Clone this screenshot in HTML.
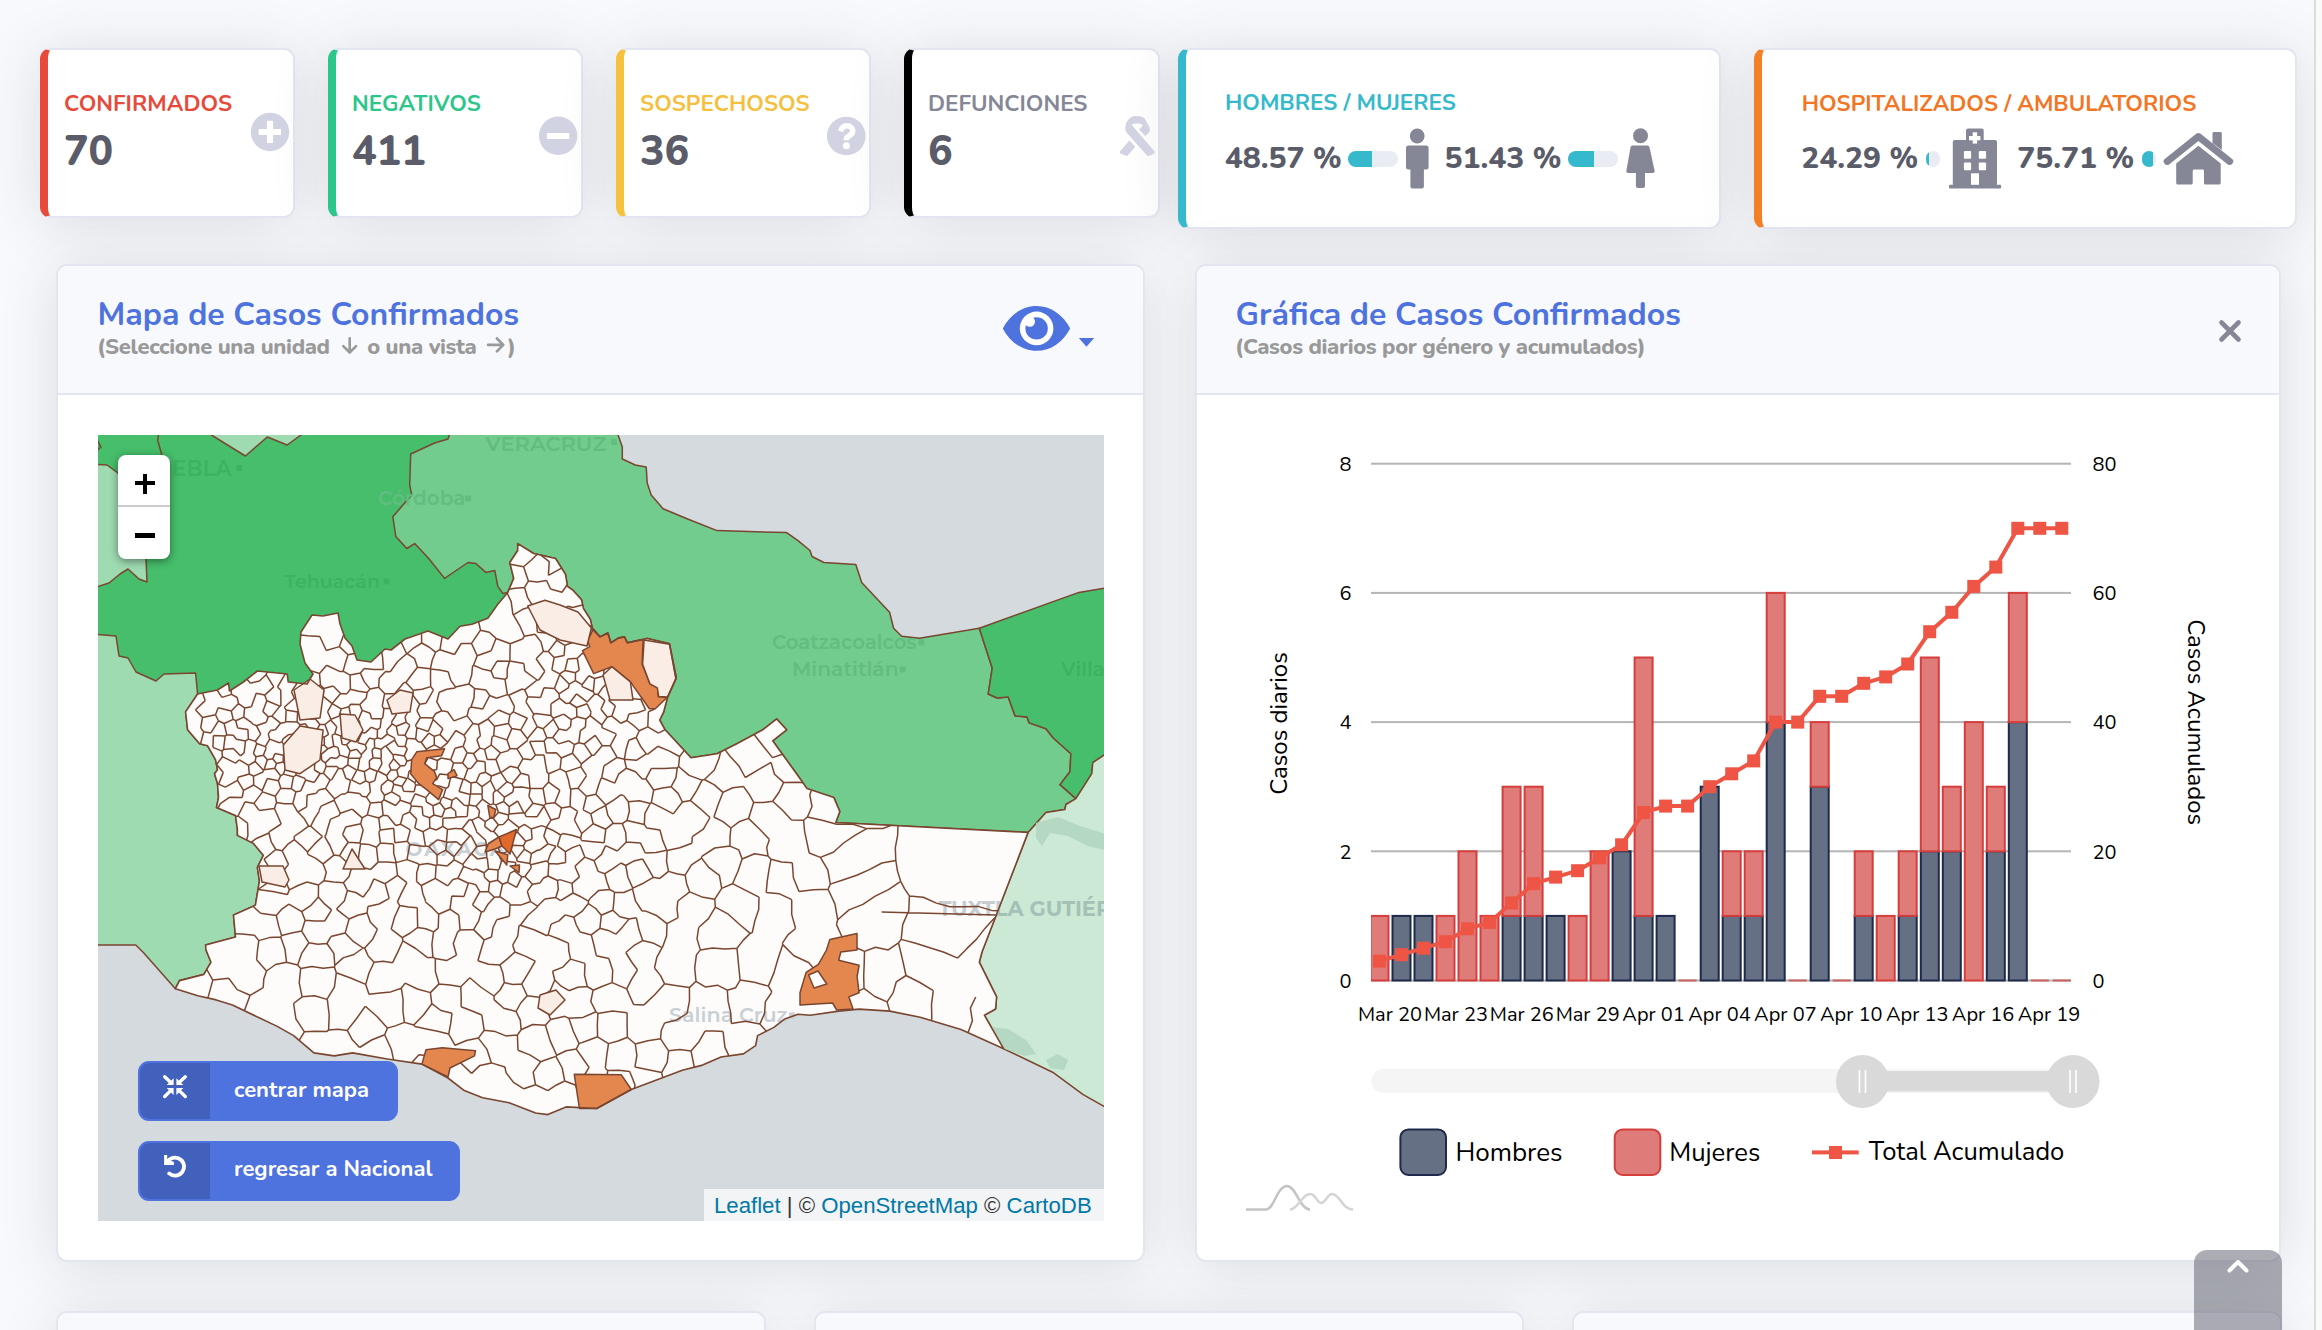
<!DOCTYPE html><html><head><meta charset="utf-8"><style>
*{margin:0;padding:0;box-sizing:border-box}
html,body{width:2322px;height:1330px;overflow:hidden}
body{background:#f8f9fc;font-family:Nunito, 'Liberation Sans', sans-serif;position:relative}
.t{position:absolute;line-height:1;white-space:nowrap}
.card{position:absolute;background:#fff;border:2px solid #e3e6f0;border-radius:11px;
  box-shadow:0 5px 56px 0 rgba(58,59,69,.15)}
.bl{border-left-width:8px}
.hdr{position:absolute;left:0;right:0;top:0;background:#f8f9fc;border-bottom:2px solid #e3e6f0;border-radius:9px 9px 0 0}
svg{position:absolute;overflow:visible}
</style></head><body><div class="card bl" style="left:40px;top:48px;width:255px;height:170px;border-left-color:#e74a3b"></div>
<div class="t " style="left:64.0px;top:92.7px;font-size:22.4px;color:#e74a3b;font-weight:700;">CONFIRMADOS</div>
<div class="t " style="left:64.0px;top:130.7px;font-size:41px;color:#5a5c69;font-weight:800;">70</div>
<div class="card bl" style="left:328px;top:48px;width:255px;height:170px;border-left-color:#2dc68a"></div>
<div class="t " style="left:352.0px;top:92.7px;font-size:22.4px;color:#2dc68a;font-weight:700;">NEGATIVOS</div>
<div class="t " style="left:352.0px;top:130.7px;font-size:41px;color:#5a5c69;font-weight:800;">411</div>
<div class="card bl" style="left:616px;top:48px;width:255px;height:170px;border-left-color:#f6c23e"></div>
<div class="t " style="left:640.0px;top:92.7px;font-size:22.4px;color:#f5c040;font-weight:700;">SOSPECHOSOS</div>
<div class="t " style="left:640.0px;top:130.7px;font-size:41px;color:#5a5c69;font-weight:800;">36</div>
<div class="card bl" style="left:904px;top:48px;width:256px;height:170px;border-left-color:#000000"></div>
<div class="t " style="left:928.0px;top:92.7px;font-size:22.4px;color:#858796;font-weight:700;">DEFUNCIONES</div>
<div class="t " style="left:928.0px;top:130.7px;font-size:41px;color:#5a5c69;font-weight:800;">6</div>
<div class="card bl" style="left:1178px;top:48px;width:543px;height:181px;border-left-color:#36b9cc"></div>
<div class="t " style="left:1225.0px;top:92.4px;font-size:22.4px;color:#36b9cc;font-weight:700;">HOMBRES / MUJERES</div>
<div class="t " style="left:1224.8px;top:144.4px;font-size:30px;color:#5a5c69;font-weight:800;">48.57 %</div>
<div class="t " style="left:1444.5px;top:144.4px;font-size:30px;color:#5a5c69;font-weight:800;">51.43 %</div>
<div class="card bl" style="left:1754px;top:48px;width:543px;height:181px;border-left-color:#f37f27"></div>
<div class="t " style="left:1801.7px;top:92.7px;font-size:22.4px;color:#f27624;font-weight:700;">HOSPITALIZADOS / AMBULATORIOS</div>
<div class="t " style="left:1801.3px;top:144.4px;font-size:30px;color:#5a5c69;font-weight:800;">24.29 %</div>
<div class="t " style="left:2017.3px;top:144.4px;font-size:30px;color:#5a5c69;font-weight:800;">75.71 %</div>
<div style="position:absolute;left:1348px;top:151px;width:50px;height:16px;border-radius:8.0px;background:#eaecf4;overflow:hidden"><div style="width:24.3px;height:100%;background:#36b9cc"></div></div>
<div style="position:absolute;left:1568px;top:151px;width:50px;height:16px;border-radius:8.0px;background:#eaecf4;overflow:hidden"><div style="width:25.7px;height:100%;background:#36b9cc"></div></div>
<div style="position:absolute;left:1926px;top:151px;width:14px;height:16px;border-radius:8.0px;background:#eaecf4;overflow:hidden"><div style="width:3.4px;height:100%;background:#36b9cc"></div></div>
<div style="position:absolute;left:2142px;top:151px;width:14px;height:16px;border-radius:8.0px;background:#eaecf4;overflow:hidden"><div style="width:10.6px;height:100%;background:#36b9cc"></div></div>
<svg style="left:0;top:0;z-index:3" width="2322" height="1330" viewBox="0 0 2322 1330"><circle cx="270" cy="132" r="19.2" fill="#d1d3e2"/><rect x="258.7" y="129" width="22.3" height="6" fill="#fff"/><rect x="266.9" y="120.8" width="6.2" height="22.3" fill="#fff"/><circle cx="558.2" cy="135.8" r="19.2" fill="#d1d3e2"/><rect x="547" y="133" width="22.2" height="6" fill="#fff"/><circle cx="846.3" cy="136" r="19.3" fill="#d1d3e2"/><path d="M840.3,131.2 C841.8,127.6 844,125.7 846.6,125.7 C850.2,125.7 852.8,128 852.8,131 C852.8,134 850.4,135.2 848.4,136.3 C846.8,137.2 846.2,138.2 846.2,140.2" fill="none" stroke="#fff" stroke-width="5.4"/><circle cx="846.4" cy="145.8" r="3.5" fill="#fff"/><path d="M1125.3,128.5 C1125.3,124 1127,121 1129.4,118.5 C1131.5,116.6 1134,116.1 1137.1,116.1 C1140.5,116.1 1143,117 1144.7,118.5 L1149.7,127.6 C1150.3,130 1149.7,132 1148.4,133 L1145.2,136.1 L1139.3,129.8 L1142.9,124.9 C1141,123.8 1139,123.5 1137.1,123.5 C1135,123.5 1133,124 1131.7,124.9 L1154.7,151.5 C1155.2,152.5 1154.5,153.5 1153.5,154 L1148.5,156 C1147.8,156.2 1147.3,156 1147,155.5 L1127,133 C1125.8,131.5 1125.3,130 1125.3,128.5 Z M1119.9,151.5 L1129.4,140.6 L1135.3,147 L1127.1,156 L1121.5,154 C1120,153.3 1119.5,152.3 1119.9,151.5 Z" fill="#d1d3e2"/><circle cx="1417.2" cy="136" r="7.4" fill="#858796"/><rect x="1406" y="145.5" width="22.6" height="24" rx="2.5" fill="#858796"/><rect x="1410.4" y="160" width="13.5" height="28.4" rx="2" fill="#858796"/><circle cx="1640.5" cy="135.8" r="7.5" fill="#858796"/><path d="M1632.5,145.5 L1647.5,145.5 Q1649,145.5 1649.4,147 L1654.6,170.5 Q1655,173 1652.5,173 L1628.5,173 Q1626,173 1626.4,170.5 L1630.6,147 Q1631,145.5 1632.5,145.5Z" fill="#858796"/><rect x="1635.9" y="168" width="9.1" height="20" rx="2" fill="#858796"/><rect x="1966" y="128.5" width="17.7" height="14" rx="2" fill="#858796"/><rect x="1952.8" y="140.1" width="44.2" height="46" rx="2" fill="#858796"/><rect x="1949" y="184.8" width="52.1" height="3.6" rx="1" fill="#858796"/><rect x="1969" y="136" width="11.4" height="4.3" fill="#fff"/><rect x="1972.7" y="132.3" width="4.4" height="11.3" fill="#fff"/><rect x="1963.9" y="150.9" width="7.2" height="7.9" rx="1" fill="#fff"/><rect x="1978.8" y="150.9" width="7.3" height="7.9" rx="1" fill="#fff"/><rect x="1963.9" y="162.4" width="7.2" height="7.8" rx="1" fill="#fff"/><rect x="1978.8" y="162.4" width="7.3" height="7.8" rx="1" fill="#fff"/><rect x="1971" y="173.3" width="8" height="11.5" fill="#fff"/><path d="M2167.2,161.4 L2198.4,136.6 L2229.7,161.4" fill="none" stroke="#858796" stroke-width="7" stroke-linecap="round" stroke-linejoin="round"/><path d="M2212.5,133.5 Q2212.5,132.1 2214,132.1 L2220.3,132.1 Q2221.8,132.1 2221.8,133.5 L2221.8,150 L2212.5,143 Z" fill="#858796"/><path d="M2176.2,163.4 L2198.4,145.7 L2220.7,163.4 L2220.7,183 Q2220.7,184.6 2219,184.6 L2205.5,184.6 Q2204,184.6 2204,183 L2204,171 Q2204,169.6 2202.5,169.6 L2194.2,169.6 Q2192.7,169.6 2192.7,171 L2192.7,183 Q2192.7,184.6 2191,184.6 L2177.8,184.6 Q2176.2,184.6 2176.2,183 Z" fill="#858796"/></svg>
<div class="card" style="left:56px;top:264px;width:1089px;height:998px;overflow:hidden"><div class="hdr" style="height:129px"></div></div>
<div class="t " style="left:97.5px;top:299.2px;font-size:32px;color:#4e73df;font-weight:700;">Mapa de Casos Confirmados</div>
<div class="t " style="left:97.0px;top:336.4px;font-size:22px;color:#999999;font-weight:800;letter-spacing:-0.35px">(Seleccione una unidad<svg style="position:static;display:inline-block;vertical-align:baseline;overflow:visible" width="37.5" height="14"><path d="M19.7,-1.7 L19.7,12.3 M13.3,6.1 L19.7,12.5 L26.1,6.1" fill="none" stroke="#999" stroke-width="2.6" stroke-linecap="round" stroke-linejoin="round"/></svg>o una vista<svg style="position:static;display:inline-block;vertical-align:baseline;overflow:visible" width="31" height="14"><path d="M12.1,4.9 L27.1,4.9 M20.9,-1.5 L27.3,4.9 L20.9,11.3" fill="none" stroke="#999" stroke-width="2.6" stroke-linecap="round" stroke-linejoin="round"/></svg>)</div>
<svg style="left:0;top:0;z-index:3" width="1" height="1"><path d="M1002.8,328.4 C1010,315 1022,306 1036.5,306 C1051,306 1063,315 1070.2,328.4 C1063,342 1051,350.8 1036.5,350.8 C1022,350.8 1010,342 1002.8,328.4Z" fill="#4e73df"/><circle cx="1036.6" cy="328.4" r="16.8" fill="#fff"/><circle cx="1036.6" cy="328.4" r="11.2" fill="#4e73df"/><circle cx="1029.8" cy="321.6" r="5.2" fill="#fff"/><path d="M1078.8,338 L1094.1,338 L1086.5,346.8Z" fill="#4e73df"/></svg>
<div style="position:absolute;left:98px;top:435px;width:1006px;height:786px;overflow:hidden;background:#d4dadd"><svg width="1006" height="786" viewBox="0 0 1006 786" style="display:block"><rect width="1006" height="786" fill="#46be6b"/><path d="M517.3,-8.0 L524.3,12.0 L524.3,24.0 L537.3,30.0 L548.2,32.0 L549.2,48.0 L553.2,60.0 L565.1,73.7 L589.0,83.7 L619.0,95.6 L688.6,97.6 L700.0,105.6 L712.0,115.5 L714.0,121.5 L725.9,127.5 L757.8,129.5 L763.7,147.4 L791.6,177.3 L795.6,193.2 L803.6,201.2 L821.5,203.2 L881.3,193.2 L980.9,157.4 L1014.0,151.8 L1014.0,-8.0Z" fill="#d4dadd"/><path d="M-8.0,510.0 L37.8,510.0 L45.8,518.0 L77.4,553.7 L99.8,560.8 L118.2,564.9 L134.4,570.0 L179.3,591.4 L195.6,600.6 L215.9,617.9 L236.3,620.9 L254.6,617.9 L289.3,624.0 L323.9,629.1 L350.0,643.0 L366.3,655.6 L384.6,662.7 L411.1,667.8 L437.6,678.0 L449.8,679.6 L468.1,671.9 L498.7,673.5 L533.3,654.5 L584.3,635.2 L604.6,630.1 L623.0,622.0 L645.4,618.9 L657.6,610.7 L659.6,600.6 L675.9,592.4 L686.1,584.3 L700.0,579.2 L712.2,580.2 L740.7,576.1 L761.1,574.1 L791.7,576.1 L822.2,582.2 L863.0,594.4 L905.7,613.8 L954.6,637.2 L985.2,659.6 L1014.0,676.0 L1014.0,794.0 L-8.0,794.0Z" fill="#d4dadd"/><path d="M354.0,-8.0 L517.3,-8.0 L524.3,12.0 L524.3,24.0 L537.3,30.0 L548.2,32.0 L549.2,48.0 L553.2,60.0 L565.1,73.7 L589.0,83.7 L619.0,95.6 L688.6,97.6 L700.0,105.6 L712.0,115.5 L714.0,121.5 L725.9,127.5 L757.8,129.5 L763.7,147.4 L791.6,177.3 L795.6,193.2 L803.6,201.2 L821.5,203.2 L881.3,193.2 L894.2,233.1 L890.2,259.0 L899.2,263.0 L910.2,262.0 L917.1,280.9 L929.1,281.9 L931.1,287.9 L948.0,293.8 L955.0,302.8 L972.9,318.7 L971.9,336.7 L962.0,349.6 L977.9,363.6 L967.9,369.5 L966.9,374.5 L948.0,377.5 L930.1,397.4 L737.8,387.5 L741.8,376.5 L735.9,362.6 L709.0,353.6 L700.0,340.7 L674.7,305.8 L688.6,294.8 L678.7,283.9 L664.7,294.8 L638.8,308.8 L618.9,318.7 L593.0,322.7 L567.1,294.8 L561.7,285.0 L565.6,277.2 L569.5,262.5 L578.3,243.0 L571.5,208.8 L549.0,203.4 L545.1,204.4 L529.4,207.8 L526.5,201.9 L520.7,202.9 L512.8,207.8 L509.9,198.0 L502.1,201.9 L494.3,193.1 L492.3,184.3 L485.5,173.6 L483.5,164.8 L474.7,155.0 L469.5,151.4 L467.5,139.4 L457.6,123.5 L435.7,118.5 L419.7,108.6 L419.7,115.5 L411.8,127.5 L415.7,143.4 L409.8,157.4 L404.8,158.4 L399.8,151.4 L396.8,135.5 L387.8,137.4 L377.9,128.5 L370.0,127.5 L350.0,141.0 L346.6,143.4 L330.7,123.5 L316.7,108.6 L308.8,113.5 L297.8,101.6 L294.8,81.7 L313.7,60.0 L311.7,50.0 L312.7,19.0 L336.6,8.0 L350.0,4.0Z" fill="#72cc8e" stroke="#7a4630" stroke-width="1.5" stroke-linejoin="round"/><path d="M881.3,193.2 L980.9,157.4 L1014.0,151.8 L1014.0,314.8 L994.8,327.7 L993.8,338.7 L977.9,363.6 L962.0,349.6 L971.9,336.7 L972.9,318.7 L955.0,302.8 L948.0,293.8 L931.1,287.9 L929.1,281.9 L917.1,280.9 L910.2,262.0 L899.2,263.0 L890.2,259.0 L894.2,233.1Z" fill="#46be6b" stroke="#7a4630" stroke-width="1.5" stroke-linejoin="round"/><path d="M1014.0,314.8 L1014.0,676.0 L985.2,659.6 L954.6,637.2 L905.7,613.8 L886.4,580.2 L897.6,574.0 L898.6,561.9 L881.3,527.2 L884.0,517.0 L930.1,397.4 L948.0,377.5 L966.9,374.5 L967.9,369.5 L977.9,363.6 L993.8,338.7 L994.8,327.7Z" fill="#cbe9d4" stroke="#7a4630" stroke-width="1.5" stroke-linejoin="round"/><path d="M938.0,388.0 L960.0,382.0 L982.0,391.0 L1014.0,401.0 L1014.0,417.0 L990.0,411.0 L970.0,401.0 L952.0,398.0 L944.0,411.0 L938.0,403.0Z" fill="#b4d8c2"/><path d="M892.0,592.0 L910.0,594.0 L928.0,605.0 L938.0,619.0 L926.0,621.0 L904.0,613.0 L894.0,605.0Z" fill="#b4d8c2"/><path d="M948.0,625.0 L960.0,619.0 L970.0,625.0 L966.0,635.0 L952.0,633.0Z" fill="#b4d8c2"/><path d="M-8.0,199.0 L18.0,201.0 L21.0,221.0 L30.0,223.0 L38.0,237.0 L58.0,246.0 L66.0,239.0 L97.6,238.0 L99.6,259.0 L87.6,276.9 L89.6,294.8 L101.6,308.8 L109.6,310.8 L117.5,324.7 L119.5,334.7 L116.5,338.7 L119.5,348.6 L120.5,362.6 L118.5,372.5 L137.5,380.5 L139.4,394.4 L139.4,400.4 L155.4,408.4 L165.3,420.3 L159.4,432.3 L161.4,446.2 L157.4,470.1 L153.4,472.1 L135.5,480.1 L137.5,502.0 L107.6,510.0 L108.0,515.0 L113.0,527.2 L105.9,539.4 L81.5,545.6 L77.4,553.7 L45.8,518.0 L37.8,510.0 L-8.0,510.0Z" fill="#9edbb1" stroke="#7a4630" stroke-width="1.5" stroke-linejoin="round"/><path d="M-8.0,29.0 L9.0,30.0 L20.0,38.0 L34.0,60.0 L44.0,100.0 L48.0,123.0 L49.0,147.0 L41.0,144.0 L30.0,134.0 L22.0,139.0 L11.0,148.0 L-8.0,154.0Z" fill="#9edbb1" stroke="#7a4630" stroke-width="1.5" stroke-linejoin="round"/><path d="M100.6,-8.0 L113.5,0.0 L147.4,21.0 L169.3,2.0 L189.2,10.0 L203.0,0.0 L214.0,-8.0Z" fill="#9edbb1" stroke="#7a4630" stroke-width="1.5" stroke-linejoin="round"/><path d="M-8.0,-8.0 L3.0,12.0 L-8.0,22.0Z" fill="#2fb55a" stroke="#7a4630" stroke-width="1.5" stroke-linejoin="round"/><path d="M61.6,-8.0 L59.7,5.4 L63.5,18.7 L66.0,27.0" fill="none" stroke="#7a4630" stroke-width="1.5" stroke-linejoin="round"/><text x="387.5" y="16.0" font-family="Montserrat, Nunito, 'Liberation Sans', sans-serif" font-size="21" font-weight="600" fill="#62bd80">VERACRUZ</text><text x="133.6" y="40.5" font-family="Montserrat, Nunito, 'Liberation Sans', sans-serif" font-size="21.4" font-weight="600" text-anchor="end" fill="#3db361">PUEBLA</text><text x="280.0" y="70.0" font-family="Montserrat, Nunito, 'Liberation Sans', sans-serif" font-size="20" font-weight="600" fill="#62bd80">Córdoba</text><text x="186.6" y="153.0" font-family="Montserrat, Nunito, 'Liberation Sans', sans-serif" font-size="19" font-weight="600" fill="#3db361">Tehuacán</text><text x="674.0" y="214.0" font-family="Montserrat, Nunito, 'Liberation Sans', sans-serif" font-size="19.7" font-weight="600" fill="#62bd80">Coatzacoalcos</text><text x="694.0" y="241.0" font-family="Montserrat, Nunito, 'Liberation Sans', sans-serif" font-size="20.3" font-weight="600" fill="#62bd80">Minatitlán</text><text x="963.0" y="241.0" font-family="Montserrat, Nunito, 'Liberation Sans', sans-serif" font-size="20" font-weight="600" fill="#3db361">Villa</text><text x="840.4" y="481.0" font-family="Montserrat, Nunito, 'Liberation Sans', sans-serif" font-size="21" font-weight="700" fill="#a3c1b6">TUXTLA GUTIÉRREZ</text><rect x="138.2" y="29.9" width="6" height="6" fill="#3db361"/><rect x="367.0" y="60.5" width="6" height="6" fill="#62bd80"/><rect x="285.5" y="143.5" width="6" height="6" fill="#3db361"/><rect x="513.0" y="4.0" width="6" height="6" fill="#62bd80"/><rect x="820.5" y="204.5" width="6" height="6" fill="#62bd80"/><rect x="801.6" y="231.5" width="6" height="6" fill="#62bd80"/><path d="M99.6,259.0 L119.5,255.0 L130.5,248.0 L131.5,256.0 L145.4,247.0 L159.4,236.0 L189.2,239.0 L190.2,247.0 L209.0,249.0 L215.0,239.0 L207.0,228.0 L202.0,209.0 L203.0,197.0 L214.0,180.0 L225.0,181.0 L240.0,178.0 L242.0,189.0 L247.0,203.0 L254.0,211.0 L259.0,225.0 L273.0,227.0 L287.0,214.0 L293.0,215.0 L307.0,204.0 L330.0,196.0 L350.0,204.0 L362.0,191.2 L373.9,189.2 L389.8,183.3 L399.8,169.3 L409.8,157.4 L415.7,143.4 L411.8,127.5 L419.7,115.5 L419.7,108.6 L435.7,118.5 L457.6,123.5 L467.5,139.4 L469.5,151.4 L474.7,155.0 L483.5,164.8 L485.5,173.6 L492.3,184.3 L494.3,193.1 L502.1,201.9 L509.9,198.0 L512.8,207.8 L520.7,202.9 L526.5,201.9 L529.4,207.8 L545.1,204.4 L549.0,203.4 L571.5,208.8 L578.3,243.0 L569.5,262.5 L565.6,277.2 L561.7,285.0 L567.1,294.8 L593.0,322.7 L618.9,318.7 L638.8,308.8 L664.7,294.8 L678.7,283.9 L688.6,294.8 L674.7,305.8 L700.0,340.7 L709.0,353.6 L735.9,362.6 L741.8,376.5 L737.8,387.5 L930.1,397.4 L884.0,517.0 L881.3,527.2 L898.6,561.9 L897.6,574.0 L886.4,580.2 L905.7,613.8 L863.0,594.4 L822.2,582.2 L791.7,576.1 L761.1,574.1 L740.7,576.1 L712.2,580.2 L700.0,579.2 L686.1,584.3 L675.9,592.4 L659.6,600.6 L657.6,610.7 L645.4,618.9 L623.0,622.0 L604.6,630.1 L584.3,635.2 L533.3,654.5 L498.7,673.5 L468.1,671.9 L449.8,679.6 L437.6,678.0 L411.1,667.8 L384.6,662.7 L366.3,655.6 L350.0,643.0 L323.9,629.1 L289.3,624.0 L254.6,617.9 L236.3,620.9 L215.9,617.9 L195.6,600.6 L179.3,591.4 L134.4,570.0 L118.2,564.9 L99.8,560.8 L77.4,553.7 L81.5,545.6 L105.9,539.4 L113.0,527.2 L108.0,515.0 L107.6,510.0 L137.5,502.0 L135.5,480.1 L153.4,472.1 L157.4,470.1 L161.4,446.2 L159.4,432.3 L165.3,420.3 L155.4,408.4 L139.4,400.4 L139.4,394.4 L137.5,380.5 L118.5,372.5 L120.5,362.6 L119.5,348.6 L116.5,338.7 L119.5,334.7 L117.5,324.7 L109.6,310.8 L101.6,308.8 L89.6,294.8 L87.6,276.9Z" fill="#fdfcfa"/><text x="307.6" y="421.0" font-family="Montserrat, Nunito, 'Liberation Sans', sans-serif" font-size="20" font-weight="700" letter-spacing="2" fill="#c8d0d6">OAXACA</text><text x="571.0" y="587.3" font-family="Montserrat, Nunito, 'Liberation Sans', sans-serif" font-size="20.7" font-weight="600" fill="#c8d0d6">Salina Cruz</text><rect x="691.0" y="577.5" width="6" height="6" fill="#c8d0d6"/><clipPath id="oxc"><path d="M99.6,259.0 L119.5,255.0 L130.5,248.0 L131.5,256.0 L145.4,247.0 L159.4,236.0 L189.2,239.0 L190.2,247.0 L209.0,249.0 L215.0,239.0 L207.0,228.0 L202.0,209.0 L203.0,197.0 L214.0,180.0 L225.0,181.0 L240.0,178.0 L242.0,189.0 L247.0,203.0 L254.0,211.0 L259.0,225.0 L273.0,227.0 L287.0,214.0 L293.0,215.0 L307.0,204.0 L330.0,196.0 L350.0,204.0 L362.0,191.2 L373.9,189.2 L389.8,183.3 L399.8,169.3 L409.8,157.4 L415.7,143.4 L411.8,127.5 L419.7,115.5 L419.7,108.6 L435.7,118.5 L457.6,123.5 L467.5,139.4 L469.5,151.4 L474.7,155.0 L483.5,164.8 L485.5,173.6 L492.3,184.3 L494.3,193.1 L502.1,201.9 L509.9,198.0 L512.8,207.8 L520.7,202.9 L526.5,201.9 L529.4,207.8 L545.1,204.4 L549.0,203.4 L571.5,208.8 L578.3,243.0 L569.5,262.5 L565.6,277.2 L561.7,285.0 L567.1,294.8 L593.0,322.7 L618.9,318.7 L638.8,308.8 L664.7,294.8 L678.7,283.9 L688.6,294.8 L674.7,305.8 L700.0,340.7 L709.0,353.6 L735.9,362.6 L741.8,376.5 L737.8,387.5 L930.1,397.4 L884.0,517.0 L881.3,527.2 L898.6,561.9 L897.6,574.0 L886.4,580.2 L905.7,613.8 L863.0,594.4 L822.2,582.2 L791.7,576.1 L761.1,574.1 L740.7,576.1 L712.2,580.2 L700.0,579.2 L686.1,584.3 L675.9,592.4 L659.6,600.6 L657.6,610.7 L645.4,618.9 L623.0,622.0 L604.6,630.1 L584.3,635.2 L533.3,654.5 L498.7,673.5 L468.1,671.9 L449.8,679.6 L437.6,678.0 L411.1,667.8 L384.6,662.7 L366.3,655.6 L350.0,643.0 L323.9,629.1 L289.3,624.0 L254.6,617.9 L236.3,620.9 L215.9,617.9 L195.6,600.6 L179.3,591.4 L134.4,570.0 L118.2,564.9 L99.8,560.8 L77.4,553.7 L81.5,545.6 L105.9,539.4 L113.0,527.2 L108.0,515.0 L107.6,510.0 L137.5,502.0 L135.5,480.1 L153.4,472.1 L157.4,470.1 L161.4,446.2 L159.4,432.3 L165.3,420.3 L155.4,408.4 L139.4,400.4 L139.4,394.4 L137.5,380.5 L118.5,372.5 L120.5,362.6 L119.5,348.6 L116.5,338.7 L119.5,334.7 L117.5,324.7 L109.6,310.8 L101.6,308.8 L89.6,294.8 L87.6,276.9Z"/></clipPath><g clip-path="url(#oxc)"><text x="840.4" y="481.0" font-family="Montserrat, Nunito, 'Liberation Sans', sans-serif" font-size="21" font-weight="700" fill="#c5cdd1">TUXTLA GUTIÉRREZ</text></g><path d="M870.3,597.1 L874.4,585.8 L872.4,573.1 L877.7,562.0M104.5,282.4 L102.7,293.0M97.5,274.7 L104.5,282.4M120.2,272.8 L117.5,279.7M97.5,274.7 L107.2,265.6M104.5,282.4 L117.5,279.7M897.2,482.7 L896.0,483.6 L886.9,493.4 L878.6,504.1 L869.0,513.4 L859.7,523.1M870.3,597.1 L869.8,597.5M833.5,585.6 L833.8,583.1 L833.5,569.3 L835.3,555.7M133.5,259.4 L133.1,255.0M133.5,259.4 L124.0,262.4M124.0,262.4 L119.1,255.1M107.2,265.6 L104.5,258.0M344.1,201.6 L342.0,214.7M342.0,214.7 L356.5,219.5M363.2,208.5 L356.5,219.5M793.3,390.4 L784.9,393.5 L768.7,393.6M768.7,393.6 L754.2,389.0 L738.7,389.3 L724.1,385.3 L709.4,382.0M709.4,382.0 L714.0,371.5 L711.8,359.8 L713.5,355.1M899.9,475.7 L893.5,475.4 L880.0,471.4 L865.9,471.7 L851.9,471.7 L838.4,468.1 L825.3,462.3 L811.4,460.9M859.7,523.1 L846.0,517.2 L831.8,512.7 L817.6,508.3 L803.2,504.4M811.4,460.9 L810.8,475.8 L809.9,477.8M809.9,477.8 L804.7,489.6 L803.2,504.4M668.4,596.2 L661.8,589.1M661.8,589.1 L666.5,578.6 L667.4,566.7 L673.9,557.0M720.7,547.5 L720.9,539.5M720.9,539.5 L710.6,527.5 L695.9,520.7 L684.8,509.6M684.8,509.6 L680.1,523.5 L676.0,537.6 L670.4,551.1M670.4,551.1 L673.9,557.0M652.2,498.4 L654.2,497.8M684.8,509.6 L684.4,508.2M652.2,498.4 L645.1,505.4 L639.0,513.3M670.4,551.1 L656.4,547.3 L642.1,545.1M639.0,513.3 L640.5,529.2 L642.1,545.1M661.8,589.1 L647.6,586.2 L633.4,588.6M633.4,588.6 L632.6,577.4 L630.1,566.4 L629.3,555.2M642.1,545.1 L637.7,552.7 L629.3,555.2M720.7,547.5 L734.3,555.3 L747.5,563.9M747.5,563.9 L745.9,575.6M720.9,539.5 L732.1,531.3 L738.2,518.1 L749.6,510.2M684.4,508.2 L689.9,499.9 L697.6,493.5M749.6,510.2 L743.3,500.3 L738.5,489.6M117.5,279.7 L120.4,285.8M133.3,276.1 L120.2,272.8M133.3,276.1 L135.2,284.4M135.2,284.4 L126.1,288.5M120.4,285.8 L126.1,288.5M125.5,314.6 L135.3,313.4M125.5,314.6 L127.2,300.9M127.2,300.9 L128.8,299.8M128.8,299.8 L135.3,300.3M138.4,304.3 L135.3,300.3M158.2,258.2 L153.4,271.7M146.6,272.9 L153.4,271.7M146.6,272.9 L140.5,268.6M140.5,268.6 L139.2,262.5M152.5,248.2 L149.0,244.2M133.5,259.4 L139.2,262.5M133.3,276.1 L140.5,268.6M118.7,329.4 L118.4,329.3M119.6,349.3 L120.6,349.1M118.7,329.4 L125.3,337.4M125.3,337.4 L120.6,349.1M120.6,349.1 L127.3,352.1M120.0,373.1 L122.4,368.6 L131.7,362.2M118.7,329.4 L124.4,321.7M124.4,321.7 L137.5,328.1M109.8,563.0 L110.6,560.4 L114.8,545.1M114.8,545.1 L108.8,534.5M202.8,199.9 L209.7,200.7 L221.8,201.5M166.7,260.1 L175.8,251.9M158.2,258.2 L166.7,260.1M152.5,248.2 L161.4,246.0 L168.1,239.7M175.8,251.9 L168.1,239.7M168.1,239.7 L169.3,237.0M332.4,233.8 L334.2,225.3 L337.5,217.2M332.4,233.8 L319.5,232.2M319.5,232.2 L316.6,223.7 L309.0,218.7M337.5,217.2 L331.0,212.0 L323.7,208.0M323.7,208.0 L315.9,212.8 L309.0,218.7M342.0,214.7 L337.5,217.2M332.6,234.0 L341.5,234.9 L350.2,236.8M332.6,234.0 L332.4,233.8M307.9,247.5 L306.0,247.5M307.9,247.5 L313.6,239.8 L319.5,232.2M308.6,218.7 L299.4,226.8 L292.3,236.7M308.6,218.7 L309.0,218.7M323.5,198.3 L323.7,208.0M303.1,207.0 L308.6,218.7M639.0,513.3 L626.8,513.9 L614.5,513.0 L602.4,514.9M652.2,498.4 L641.1,489.0 L630.3,479.2 L617.3,472.2M617.3,472.2 L610.5,483.6 L600.7,492.5M600.7,492.5 L599.0,503.9 L602.4,514.9M598.0,546.3 L607.6,552.1 L619.5,550.2 L629.3,555.2M598.0,546.3 L596.7,533.1 L598.4,519.9M602.4,514.9 L598.4,519.9M513.1,665.6 L506.4,658.8M506.4,658.8 L494.6,660.7 L482.9,662.8M449.9,655.6 L458.0,650.2 L466.7,646.0M466.7,646.0 L477.3,650.0M482.9,662.8 L477.3,650.0M469.2,149.8 L464.0,157.3M474.5,172.5 L484.7,170.1M474.5,172.5 L470.0,171.2M684.4,319.2 L674.5,322.6M685.7,347.4 L700.7,347.3 L704.9,347.8M685.7,347.4 L676.5,339.2 L673.0,327.4M674.5,322.6 L665.3,311.3 L656.3,299.8 L656.0,299.5M722.4,422.4 L735.3,417.3 L745.6,408.0 L756.9,400.4 L768.7,393.6M722.4,422.4 L711.2,418.0M709.4,382.0 L705.6,385.2M711.2,418.0 L708.9,407.1 L706.6,396.3 L705.6,385.2M797.8,425.5 L783.9,428.0 L771.4,434.6 L758.7,440.3 L745.5,444.8 L732.3,449.1M797.8,425.5 L799.5,436.1 L802.7,446.3M802.7,446.3 L790.5,454.6 L777.2,461.2 L764.9,469.4 L751.0,474.9 L739.7,484.7M739.7,484.7 L736.9,468.9 L730.1,454.3M732.3,449.1 L730.1,454.3M722.4,422.4 L729.8,434.9 L732.3,449.1M800.0,390.7 L799.6,400.4 L797.3,412.9 L797.8,425.5M811.4,460.9 L806.6,453.8 L802.7,446.3M800.5,507.8 L790.2,514.9 L777.6,512.3 L766.5,516.4M800.5,507.8 L803.1,518.7 L805.6,529.5 L808.0,540.5M766.5,516.4 L766.2,528.7 L765.7,541.0 L766.0,553.4M808.0,540.5 L798.3,546.8 L795.1,557.9 L789.1,566.9M766.0,553.4 L776.8,561.5 L789.1,566.9M738.5,489.6 L739.7,484.7M749.6,510.2 L758.3,512.7 L766.5,516.4M803.2,504.4 L800.5,507.8M835.3,555.7 L821.9,547.5 L808.0,540.5M747.5,563.9 L756.5,558.2 L766.0,553.4M791.7,576.1 L789.1,566.9M625.1,596.6 L616.1,596.0 L607.0,596.1M625.1,596.6 L626.9,612.1 L630.9,620.9M607.0,596.1 L601.0,606.7 L593.0,615.9M593.0,615.9 L596.1,631.1 L596.5,632.1M591.4,552.6 L598.0,546.3M591.4,552.6 L591.5,565.6 L589.1,578.4M563.6,637.6 L569.2,627.4 L570.6,615.8M570.6,615.8 L581.8,614.5 L593.0,615.9M563.6,637.6 L564.8,642.6M126.1,288.5 L128.8,299.8M135.2,284.4 L137.7,285.7M137.7,285.7 L139.7,293.1M146.6,272.9 L145.8,282.1M137.7,285.7 L145.8,282.1M114.9,312.4 L115.4,300.5M102.5,309.0 L105.7,296.7M105.7,296.7 L112.9,297.9M124.4,321.7 L124.0,316.1M124.0,316.1 L114.9,312.4M127.2,300.9 L115.4,300.5M125.5,314.6 L124.0,316.1M102.7,293.0 L105.7,296.7M120.4,285.8 L112.9,297.9M127.3,352.1 L139.5,345.3M144.2,362.5 L131.7,362.2M144.2,362.5 L145.5,355.3M145.5,355.3 L139.5,345.3M139.5,345.3 L140.0,342.3M139.7,293.1 L149.9,294.4M149.9,294.4 L150.4,304.1M138.4,304.3 L147.5,305.9M147.5,305.9 L150.4,304.1M137.6,381.5 L140.0,381.0M147.0,366.8 L140.0,381.0M114.8,545.1 L130.7,543.3M146.4,575.7 L146.8,574.6 L152.1,560.3M130.7,543.3 L139.2,554.6 L152.1,560.3M152.1,560.3 L165.2,552.7M160.8,505.6 L159.5,515.2 L158.6,524.8M160.8,505.6 L156.5,500.3M156.5,500.3 L143.9,498.9 L137.2,498.7M168.5,536.0 L165.8,544.1 L165.2,552.7M168.5,536.0 L158.6,524.8M442.9,562.6 L452.2,555.7 L456.7,545.0M442.9,562.6 L448.2,573.3 L452.6,584.5M467.0,581.3 L452.6,584.5M471.0,555.7 L463.2,551.2 L456.7,545.0M408.1,637.8 L406.9,632.0M408.1,637.8 L415.5,647.4 L425.8,653.8M420.0,615.3 L431.8,619.9 L442.6,626.7M442.6,626.7 L435.2,637.1 L437.5,649.7M425.8,653.8 L437.5,649.7M457.9,621.4 L450.2,624.0 L442.6,626.7M466.7,646.0 L464.2,633.0 L457.9,621.4M449.9,655.6 L437.5,649.7M221.8,201.5 L228.3,215.5M245.8,199.6 L245.0,201.5 L241.4,211.6M228.3,215.5 L241.4,211.6M256.6,218.4 L250.0,219.8M250.0,219.8 L241.4,211.6M187.6,238.8 L186.3,240.4 L179.5,252.0M181.9,271.1 L182.9,270.9M182.9,270.9 L182.8,255.3M168.8,265.7 L166.7,260.1M168.8,265.7 L181.9,271.1M182.8,255.3 L179.5,252.0M285.5,234.5 L275.9,234.5 L266.3,233.4M287.5,236.6 L281.2,243.2 L280.7,252.2M266.3,233.4 L262.4,238.1M262.4,238.1 L266.2,246.6 L272.0,253.9M280.7,252.2 L272.0,253.9M283.7,217.1 L284.5,221.3 L285.5,234.5M292.3,236.7 L287.5,236.6M296.6,258.8 L286.6,258.6M286.6,258.6 L280.7,252.2M306.0,247.5 L296.6,258.8M286.6,258.6 L284.2,271.4M268.3,262.9 L269.1,257.5M269.1,257.5 L272.0,253.9M435.9,279.3 L427.9,266.8M435.9,279.3 L434.4,281.7M429.4,283.2 L415.3,276.9M415.3,276.9 L416.5,271.6M422.7,295.0 L429.4,303.7M422.7,295.0 L429.4,283.2M429.4,303.7 L439.2,291.8M439.2,291.8 L434.4,281.7M412.4,331.2 L419.8,332.9M419.8,332.9 L422.8,338.2M422.8,338.2 L414.0,348.9M412.4,331.2 L402.9,337.6M414.0,348.9 L409.0,346.8M409.0,346.8 L402.9,337.6M549.8,291.9 L560.4,298.1M560.4,298.1 L567.1,294.7M549.8,291.9 L550.4,276.7M550.4,276.7 L556.5,274.1M454.6,536.3 L464.9,532.1 L472.6,524.1M472.6,524.1 L470.8,516.2 L470.4,508.1M470.4,508.1 L460.3,503.7 L450.1,499.9M449.0,500.7 L450.1,499.9M482.2,497.1 L478.3,490.0 L475.8,482.2M467.2,479.9 L475.8,482.2M453.1,489.1 L461.0,485.9 L467.2,479.9M453.1,489.1 L450.1,499.9M591.4,552.6 L579.0,550.7 L566.6,548.8M564.5,512.3 L564.1,512.6M564.1,512.6 L558.8,522.3 L556.5,533.0M566.6,548.8 L562.4,540.4 L556.5,533.0M544.7,505.6 L540.9,494.3 L538.4,482.8M544.1,476.0 L547.3,475.9M564.1,512.6 L554.8,507.9 L544.7,505.6M564.5,512.3 L568.6,500.9 L569.0,488.7M547.3,475.9 L559.0,480.8 L569.0,488.7M569.0,488.7 L580.1,482.6M430.4,146.1 L425.6,131.8M430.4,146.1 L439.5,146.9 L448.6,145.5M450.4,140.4 L451.2,126.7 L442.9,120.1M439.3,119.3 L433.1,125.2 L425.6,131.8M463.6,133.2 L450.4,140.4M464.0,157.3 L452.5,154.0M452.5,154.0 L448.6,145.5M412.2,129.2 L412.3,129.2 L425.6,131.8M440.2,172.5 L434.8,171.1M430.4,146.1 L426.5,152.4M434.8,171.1 L429.5,162.3 L426.5,152.4M411.1,154.2 L417.0,153.3 L426.5,152.4M434.8,171.1 L424.6,174.3 L415.4,179.8M409.2,158.2 L413.2,166.6 L414.9,179.6M414.9,179.6 L415.4,179.8M518.0,204.6 L517.9,210.0M497.1,196.3 L499.8,203.8 L503.3,211.4M517.9,210.0 L506.3,213.3M503.3,211.4 L506.3,213.3M479.2,187.1 L488.5,189.6 L493.9,191.2M481.3,208.3 L477.3,206.6M479.2,187.1 L473.1,193.8M481.3,208.3 L489.7,202.9 L496.8,196.0M489.4,219.9 L484.3,218.2M489.4,219.9 L496.3,215.7 L503.3,211.4M577.8,240.5 L564.8,241.2M573.4,218.5 L560.3,217.9M564.8,241.2 L562.9,230.3 L558.3,220.3M560.3,217.9 L558.3,220.3M560.3,217.9 L557.1,205.3M594.3,401.7 L605.4,394.2 L612.0,382.5M612.0,382.5 L602.4,373.8 L592.4,365.5M575.3,378.9 L584.4,367.0M592.4,365.5 L584.4,367.0M730.1,454.3 L715.5,454.7 L701.0,456.5M694.3,427.8 L695.4,442.7 L701.0,456.5M697.6,493.5 L693.7,479.4 L693.7,464.7M685.7,347.4 L681.0,357.3 L674.7,366.2M705.6,385.2 L693.5,385.0M674.7,366.2 L684.5,375.2 L693.5,385.0M506.4,658.8 L508.3,647.2 L509.7,635.5M536.4,653.3 L537.0,649.8 L531.7,636.5M509.7,635.5 L520.7,635.2 L531.7,636.5M563.6,637.6 L550.2,634.8 L536.9,631.9M320.3,428.7 L321.0,429.7M339.0,419.9 L330.8,411.5M330.8,411.5 L327.4,411.0M339.1,429.7 L338.1,430.6M339.1,429.7 L339.0,419.9M338.1,430.6 L329.6,428.6 L321.0,429.7M326.8,411.4 L327.4,411.0M309.0,424.6 L311.8,409.4M309.0,424.6 L320.3,428.7M326.8,411.4 L311.8,409.4M145.5,355.3 L155.7,350.0M164.6,356.9 L156.0,368.4M164.6,356.9 L164.1,355.6M147.0,366.8 L156.0,368.4M164.1,355.6 L155.7,350.0M135.3,313.4 L142.4,320.8M147.5,305.9 L146.1,317.9M146.1,317.9 L142.4,320.8M137.5,328.1 L141.4,324.8M164.6,356.9 L177.3,361.2M156.0,368.4 L161.2,375.4M177.3,361.2 L178.5,367.4M178.5,367.4 L176.4,373.5M176.4,373.5 L161.2,375.4M203.7,476.6 L207.1,485.3M203.7,476.6 L213.0,470.3 L220.4,461.9M207.1,485.3 L216.9,485.9 L226.7,486.0M220.4,461.9 L226.5,468.9 L233.6,474.9M226.7,486.0 L233.6,474.9M210.9,507.8 L203.7,496.1M210.9,507.8 L203.8,518.1 L199.7,529.9M203.7,496.1 L193.6,498.1 L183.6,500.6M199.7,529.9 L188.5,527.2M188.5,527.2 L187.0,514.2 L182.7,501.9M182.7,501.9 L183.6,500.6M207.1,485.3 L203.7,496.1M190.9,469.2 L203.7,476.6M178.2,480.4 L183.9,474.1 L190.9,469.2M178.2,480.4 L180.6,490.6 L183.6,500.6M168.5,536.0 L177.6,529.5 L188.5,527.2M160.8,505.6 L171.5,502.6 L182.7,501.9M162.6,478.3 L178.2,480.4M398.7,484.7 L411.3,481.2M393.5,502.0 L394.9,493.0 L398.7,484.7M414.7,510.2 L419.8,501.0 L421.0,490.5M416.9,517.0 L414.7,510.2M416.9,517.0 L427.3,521.1 L437.3,526.2M449.0,500.7 L436.0,494.7 L422.4,490.2M421.0,490.5 L422.4,490.2M422.4,490.2 L429.9,480.2 L439.4,472.0M437.3,526.2 L430.6,537.7 L423.7,549.0M416.9,517.0 L409.6,523.6 L402.0,529.9M402.0,529.9 L405.0,538.6 L406.3,547.6M406.3,547.6 L414.9,549.6 L423.7,549.0M456.7,545.0 L454.6,536.3M442.9,562.6 L429.2,560.7M423.7,549.0 L429.2,560.7M212.6,235.6 L221.5,238.5M221.5,238.5 L228.6,230.3M221.5,238.5 L222.5,250.3M222.5,250.3 L209.4,253.2M209.4,253.2 L205.0,248.6M199.2,248.0 L193.4,256.6M288.6,340.5 L280.0,336.0M288.6,340.5 L293.0,334.8M293.0,334.8 L291.1,330.2M280.0,336.0 L284.0,328.7M370.9,273.5 L369.1,280.9M369.1,280.9 L356.0,285.9M349.6,276.8 L356.0,285.9M356.9,253.0 L348.8,254.3 L341.2,257.2M349.6,276.8 L343.7,275.7M341.2,257.2 L338.8,266.9 L343.7,275.7M291.1,330.2 L295.5,323.8M298.8,335.0 L293.0,334.8M298.8,335.0 L302.5,331.1M295.5,323.8 L302.5,331.1M260.2,285.0 L264.2,275.4M260.2,285.0 L261.5,286.2M264.2,275.4 L272.1,278.2M272.1,278.2 L273.5,283.8M268.3,262.9 L261.8,269.5M261.8,269.5 L264.2,275.4M384.4,364.2 L392.3,369.8M378.0,371.3 L384.4,364.2M381.5,375.8 L378.0,371.3M416.5,271.6 L410.7,260.2M426.7,254.9 L429.8,261.8M427.9,266.8 L429.8,261.8M426.7,254.9 L424.2,254.0M424.2,254.0 L410.7,260.2M375.0,288.4 L380.5,289.5M380.5,289.5 L390.0,284.0M369.1,280.9 L375.0,288.4M370.9,273.5 L373.0,272.1M373.0,272.1 L384.7,274.1M390.0,284.0 L390.0,283.5M424.9,323.7 L419.0,313.8M424.9,323.7 L433.2,324.7M419.0,313.8 L429.6,305.4M433.2,324.7 L437.4,320.0M431.6,306.6 L437.4,320.0M422.8,338.2 L430.7,340.2M414.0,348.9 L415.7,352.3M415.7,352.3 L423.9,352.0 L432.0,353.4M432.0,353.4 L430.7,340.2M419.8,332.9 L424.9,323.7M446.1,320.1 L437.4,320.0M446.1,320.1 L447.5,328.9 L449.2,337.6M384.3,358.2 L383.9,358.8M384.4,364.2 L383.9,358.8M392.3,369.8 L395.4,368.9M395.4,368.9 L395.3,357.7M392.5,345.5 L397.5,355.6M392.5,345.5 L384.0,351.7M384.0,351.7 L384.3,358.2M395.3,357.7 L397.5,355.6M409.0,346.8 L399.4,355.5M402.6,337.5 L393.4,341.0M392.5,345.5 L393.4,341.0M397.5,355.6 L399.4,355.5M411.2,371.6 L419.7,366.0M411.2,371.6 L405.7,366.5M405.7,366.5 L406.5,362.2M406.5,362.2 L414.9,357.0M399.4,355.5 L406.5,362.2M397.9,369.9 L395.4,368.9M397.9,369.9 L405.7,366.5M415.7,352.3 L414.9,357.0M432.0,353.4 L432.2,353.6M430.9,361.4 L432.2,353.6M430.9,361.4 L434.9,368.2M434.9,368.2 L426.7,378.2M419.7,366.0 L425.8,377.8M426.7,378.2 L425.8,377.8M411.2,371.6 L411.1,379.1M425.8,377.8 L411.1,379.1M405.2,389.4 L410.3,384.0M416.9,398.5 L419.4,397.0M419.4,397.0 L421.0,392.7M421.0,392.7 L410.3,384.0M400.4,377.3 L397.9,369.9M400.4,377.3 L410.5,380.0M410.5,380.0 L411.1,379.1M437.1,199.2 L443.0,206.9 L445.4,216.3M437.1,199.2 L426.4,201.3M426.4,201.3 L424.5,204.0M445.4,216.3 L438.1,223.7M466.9,210.3 L466.1,220.6M466.9,210.3 L458.8,205.3M458.8,205.3 L450.3,216.4M466.1,220.6 L456.1,222.6M456.1,222.6 L450.3,216.4M439.4,197.2 L448.1,198.1 L456.9,198.9M439.4,197.2 L438.4,186.0 L442.3,175.4M458.2,179.5 L450.5,176.6 L442.3,175.4M458.2,179.5 L461.0,193.2M445.4,216.3 L450.3,216.4M458.8,205.3 L456.9,198.9M415.4,179.8 L421.5,190.3 L426.4,201.3M440.2,172.5 L442.3,175.4M470.0,171.2 L458.2,179.5M473.1,193.8 L461.0,193.2M477.3,206.6 L466.9,210.3M484.3,218.2 L479.3,223.2M469.7,224.0 L479.3,223.2M453.0,280.6 L437.5,278.5M453.0,280.6 L452.9,268.9M437.5,278.5 L435.9,279.3M429.8,261.8 L442.6,262.4M439.0,381.8 L428.0,381.5M443.5,390.6 L433.3,394.0M433.3,394.0 L426.4,389.4M426.7,378.2 L428.0,381.5M434.9,368.2 L446.0,370.5M446.0,370.5 L446.0,371.0M446.0,371.0 L439.0,381.8M421.0,392.7 L426.4,389.4M410.3,384.0 L410.5,380.0M530.9,484.1 L521.8,481.7 L514.9,475.3M538.4,482.8 L530.9,484.1M544.1,476.0 L537.4,465.8 L534.5,453.9M534.5,453.9 L525.8,457.5 L516.5,457.2M516.5,457.2 L515.9,466.3 L514.9,475.3M475.8,482.2 L484.0,476.4 L490.4,468.6M475.0,458.0 L462.6,465.7M475.0,458.0 L482.9,461.8 L490.4,466.2M490.4,466.2 L490.4,468.6M493.3,499.9 L501.9,493.3M493.3,499.9 L482.2,497.1M501.9,493.3 L503.3,480.3M490.4,468.6 L497.7,473.5 L503.3,480.3M501.9,493.3 L510.2,495.4 L517.9,499.2M517.9,499.2 L524.6,491.9 L530.9,484.1M514.9,475.3 L503.3,480.3M516.5,457.2 L511.7,454.5M490.4,466.2 L492.2,463.3M492.2,463.3 L500.5,455.6 L511.7,454.5M530.8,305.3 L538.2,302.5M538.2,302.5 L542.5,311.2 L548.3,318.9M530.8,305.3 L528.0,314.7 L526.4,324.3M548.3,318.9 L538.3,325.3 L526.4,324.3M541.3,295.7 L538.2,302.5M549.8,291.9 L541.3,295.7M559.8,311.3 L549.5,319.3M548.3,318.9 L549.5,319.3M552.2,368.5 L541.4,365.7 L530.4,366.8M546.3,389.4 L546.9,378.3 L552.2,368.5M546.3,389.4 L537.6,387.6 L529.0,385.4M529.0,385.4 L531.4,376.2 L530.4,366.8M528.4,333.2 L537.5,336.8 L544.2,344.0M516.7,348.1 L520.6,339.2 L528.4,333.2M523.0,359.7 L525.7,360.6M471.0,555.7 L479.8,552.2 L489.3,551.5M472.6,524.1 L487.0,528.4M489.3,551.5 L486.5,540.1 L487.0,528.4M493.3,499.9 L496.0,510.3 L498.3,520.7M568.8,415.3 L558.1,417.4 L547.3,418.0M568.8,415.3 L564.7,405.4 L562.0,395.0M562.0,395.0 L548.8,393.1M542.4,407.9 L547.3,418.0M593.9,408.3 L581.8,412.7 L569.2,415.6M569.2,415.6 L568.8,415.3M594.3,401.7 L593.9,408.3M553.3,367.7 L564.4,373.1 L575.3,378.9M546.3,389.4 L548.8,393.1M552.2,368.5 L553.3,367.7M534.8,453.1 L529.9,442.2 L527.7,430.5M534.8,453.1 L545.4,448.2 L555.3,442.3M555.3,442.3 L550.0,433.1 L544.6,424.0M527.7,430.5 L535.7,426.1 L544.6,424.0M398.0,203.4 L391.3,197.2 L382.5,195.2M380.6,186.7 L382.5,195.2M363.2,208.5 L373.5,208.4M373.5,208.4 L382.5,195.2M561.8,443.4 L570.5,436.4M570.5,436.4 L578.7,438.8 L587.1,440.2M587.1,440.2 L588.7,448.7 L591.7,456.9M591.7,456.9 L579.8,466.0M569.2,415.6 L568.5,426.1 L570.5,436.4M555.3,442.3 L561.8,443.4M534.5,453.9 L534.8,453.1M603.6,423.1 L593.5,429.9 L587.1,440.2M603.6,423.1 L603.8,421.3M580.1,482.6 L579.0,474.3 L579.8,466.0M623.7,453.4 L616.8,464.2M623.7,453.4 L621.4,440.3 L611.0,432.7 L603.6,423.1M616.8,464.2 L603.8,461.9 L591.7,456.9M617.3,472.2 L616.8,464.2M604.0,345.1 L606.4,344.5M604.0,345.1 L591.1,340.4 L580.6,331.5M606.4,344.5 L616.2,335.3 L621.0,323.5 L622.6,316.9M580.6,331.5 L581.6,321.5M581.6,321.5 L586.3,315.4M559.8,311.3 L571.0,315.9 L581.6,321.5M673.0,327.4 L660.1,334.9 L647.3,342.5M647.3,342.5 L640.9,330.9 L632.0,321.2 L627.0,314.6M569.4,262.9 L561.4,259.0M556.5,274.1 L561.4,259.0M694.3,427.8 L683.5,427.0 L673.0,424.2M693.7,464.7 L681.6,458.8 L668.2,457.6M673.0,424.2 L670.9,435.2 L669.2,446.4 L668.2,457.6M654.2,497.8 L656.8,486.0 L660.7,474.4 L661.0,462.1M623.7,453.4 L634.5,448.7M634.5,448.7 L647.7,455.4 L661.0,462.1M603.8,421.3 L616.7,413.0 L632.0,411.1M634.5,448.7 L639.9,436.5 L644.1,424.0M632.0,411.1 L640.8,414.9 L644.1,424.0M673.0,424.2 L670.0,420.9M644.1,424.0 L656.6,418.8 L670.0,420.9M671.4,404.5 L668.7,412.5 L670.0,420.9M645.6,351.6 L634.8,352.8 L624.9,357.4M645.6,351.6 L651.1,359.2 L655.7,367.3M655.7,367.3 L653.1,375.4 L650.5,383.4M624.9,357.4 L620.2,369.6 L615.9,382.0M650.5,383.4 L641.0,386.8 L632.9,393.0M615.9,382.0 L625.0,386.6 L632.9,393.0M606.4,344.5 L616.4,349.9 L624.9,357.4M674.7,366.2 L665.3,367.5 L655.7,367.3M671.4,404.5 L661.2,393.7 L650.5,383.4M592.4,365.5 L598.7,355.6 L604.0,345.1M632.0,411.1 L632.0,402.0 L632.9,393.0M477.3,650.0 L485.2,642.0 L491.1,632.4M509.7,635.5 L507.3,633.2M457.9,621.4 L458.7,620.2M458.7,620.2 L468.1,615.8 L478.3,614.1M491.1,632.4 L484.7,623.2 L478.3,614.1M162.7,299.1 L157.4,306.2M167.3,311.6 L158.7,308.5M167.3,311.6 L171.7,304.1M171.7,304.1 L170.2,299.0M157.4,306.2 L158.7,308.5M155.4,318.5 L158.7,308.5M150.4,304.1 L157.4,306.2M181.4,307.7 L183.9,306.9M185.1,303.8 L183.9,306.9M170.2,299.0 L172.5,295.6M181.4,307.7 L171.7,304.1M177.3,294.8 L172.5,295.6M327.6,466.0 L324.8,458.4 L323.3,450.5M323.3,450.5 L337.3,443.3M337.3,443.3 L349.7,450.9M318.6,446.6 L318.7,438.0 L321.0,429.7M318.6,446.6 L323.3,450.5M338.1,430.6 L337.3,443.3M339.1,429.7 L349.3,430.9M354.9,444.5 L349.7,450.9M366.0,461.6 L370.4,448.2M370.4,448.2 L359.9,443.3M354.9,444.5 L359.9,443.3M353.8,461.0 L366.0,461.6M348.8,407.3 L358.2,406.7M348.8,407.3 L348.4,406.9M348.4,406.9 L349.5,394.4M349.5,394.4 L358.8,393.2M359.3,393.7 L358.8,393.2M330.8,411.5 L339.3,404.8M347.7,415.1 L348.8,407.3M347.7,415.1 L339.0,419.9M339.3,404.8 L348.4,406.9M338.2,395.0 L344.8,391.4M344.8,391.4 L349.5,394.4M364.1,393.8 L372.3,400.6M363.4,410.7 L372.3,400.6M363.4,410.7 L358.2,406.7M364.1,393.8 L359.3,393.7M344.9,383.2 L344.8,391.4M357.7,382.6 L344.9,383.2M369.3,381.4 L358.0,382.0M357.7,382.6 L358.0,382.0M364.1,393.8 L371.5,384.5M141.4,324.8 L150.5,330.3M155.4,318.5 L158.0,321.7M158.0,321.7 L157.2,326.5M150.5,330.3 L157.2,326.5M140.0,342.3 L151.3,339.0M150.5,330.3 L151.3,339.0M155.7,350.0 L155.5,341.2M151.3,339.0 L155.5,341.2M263.0,296.5 L261.5,286.2M263.0,296.5 L251.2,297.0M251.2,297.0 L250.9,296.7M253.3,283.2 L250.9,271.7M261.8,269.5 L252.6,269.3M252.6,269.3 L250.9,271.7M238.8,291.8 L236.8,298.8M244.1,290.8 L249.8,296.6M249.8,296.6 L242.6,300.9M242.6,300.9 L236.8,298.8M226.9,289.5 L230.6,299.4M226.9,289.5 L232.7,284.9M232.7,284.9 L238.8,291.8M234.0,300.2 L236.8,298.8M250.9,296.7 L249.8,296.6M245.9,285.1 L253.3,283.2M245.9,285.1 L244.1,290.8M162.6,478.3 L155.0,471.3M170.9,398.0 L157.8,403.8 L153.2,407.3M170.9,398.0 L171.5,396.6M148.6,405.0 L149.9,400.6 L149.6,388.2M177.8,414.5 L173.2,406.8 L170.9,398.0M177.8,414.5 L166.0,424.3M176.4,373.5 L179.9,381.2 L183.2,389.0M183.2,389.0 L171.5,396.6M140.0,381.0 L149.6,388.2M308.9,447.6 L299.5,440.3M299.5,440.3 L298.0,427.8M309.0,424.6 L298.2,427.6M298.0,427.8 L298.2,427.6M192.0,315.6 L190.3,315.3M192.0,315.6 L197.3,320.8M197.3,320.8 L191.7,330.0M190.3,315.3 L185.4,320.2M185.4,320.2 L185.1,327.0M185.1,327.0 L188.7,330.5M191.7,330.0 L188.7,330.5M155.5,341.2 L165.0,337.0M157.2,326.5 L165.5,335.3M165.5,335.3 L165.0,337.0M164.1,355.6 L169.3,343.6M177.3,361.2 L182.8,353.2M182.8,353.2 L180.4,345.8M169.3,343.6 L180.4,345.8M182.8,353.2 L193.3,353.7M193.3,353.7 L195.4,341.8M185.4,339.1 L195.4,341.8M185.4,339.1 L182.6,340.8M180.4,345.8 L182.6,340.8M393.4,627.9 L406.9,632.0M393.4,627.9 L382.0,630.4 L373.6,638.4M418.7,452.4 L409.6,447.3M418.7,452.4 L423.8,441.9M409.6,447.3 L412.0,438.4M423.8,441.9 L416.5,435.8M412.0,438.4 L416.5,435.8M386.2,595.3 L383.8,580.0M386.2,595.3 L397.3,596.6 L407.9,600.9 L419.4,600.1M396.2,564.9 L405.8,573.2 L418.1,576.5M418.1,576.5 L422.3,585.2 L423.1,594.8M423.1,594.8 L419.4,600.1M393.4,627.9 L389.0,614.4 L380.4,603.1M380.4,603.1 L386.2,595.3M420.0,615.3 L419.4,600.1M429.2,560.7 L422.7,568.0 L418.1,576.5M396.0,561.0 L402.0,555.0 L406.3,547.6M396.0,561.0 L396.2,564.9M447.4,590.3 L434.7,589.5 L423.1,594.8M452.6,584.5 L447.4,590.3M447.4,590.3 L452.1,605.6 L458.7,620.2M373.6,638.4 L363.8,629.0 L353.6,620.0M380.4,603.1 L368.4,605.5 L357.1,610.3M344.2,639.9 L346.2,635.2 L352.2,621.0M353.6,620.0 L352.2,621.0M347.9,353.3 L340.3,350.6M350.4,352.0 L347.9,353.3M352.9,341.3 L352.1,340.1M352.9,341.3 L350.4,352.0M338.6,344.9 L341.7,338.9M352.1,340.1 L341.7,338.9M370.1,370.7 L366.2,370.2M370.1,370.7 L369.3,381.4M358.0,382.0 L357.5,376.0M321.7,269.3 L315.0,260.4M321.7,269.3 L328.1,268.2M328.1,268.2 L335.4,255.0M315.2,255.2 L324.1,254.2 L332.7,251.6M315.2,255.2 L315.0,260.4M332.7,251.6 L335.4,255.0M343.7,275.7 L337.7,278.5M307.9,247.5 L315.2,255.2M332.6,234.0 L332.5,242.8 L332.7,251.6M357.6,252.1 L356.9,253.0M350.2,236.8 L352.7,245.1 L357.6,252.1M307.1,330.5 L308.9,326.2M308.9,326.2 L316.6,323.8M311.0,336.1 L321.8,333.5M321.8,333.5 L316.6,323.8M309.8,343.1 L316.7,347.7M316.7,347.7 L325.4,336.9M309.8,343.1 L311.0,336.1M323.6,334.2 L325.4,336.9M317.7,350.0 L328.3,350.0M316.7,347.7 L317.7,350.0M330.1,345.8 L325.7,337.1M325.4,336.9 L325.7,337.1M338.6,344.9 L330.1,345.8M325.7,337.1 L338.7,334.6M323.6,334.2 L330.3,322.3M338.7,334.6 L339.4,325.5M330.3,322.3 L339.4,325.5M352.1,340.1 L355.5,328.0M352.7,324.7 L343.2,323.0M352.7,324.7 L355.5,328.0M343.2,323.0 L339.4,325.5M263.0,296.5 L263.9,297.4M263.9,297.4 L267.3,297.9M273.2,292.3 L267.3,297.9M284.0,328.7 L282.8,323.5M295.5,323.8 L295.2,320.1M283.3,322.8 L282.8,323.5M295.1,320.0 L295.2,320.1M284.2,271.4 L285.9,273.4M296.6,258.8 L300.8,267.7M285.9,273.4 L295.9,273.6M295.9,273.6 L300.8,267.7M315.0,260.4 L305.8,268.5M321.7,269.3 L318.9,275.6M305.8,268.5 L310.2,276.3M273.5,283.8 L283.2,283.8M285.9,273.4 L284.8,282.6M283.2,283.8 L284.8,282.6M416.5,435.8 L417.8,427.5M401.2,434.1 L403.5,425.7M417.8,427.5 L403.5,425.7M378.0,371.3 L371.0,370.0M371.0,370.0 L370.1,370.7M381.5,375.8 L380.5,381.9M371.5,384.5 L374.0,385.2M380.5,381.9 L374.0,385.2M439.1,245.0 L426.7,254.9M439.1,245.0 L426.7,235.8M386.6,314.4 L393.2,310.0M386.6,314.4 L389.2,324.6M397.9,324.2 L389.2,324.6M397.9,324.2 L402.5,317.9M393.2,310.0 L402.5,317.9M381.8,313.1 L386.6,314.4M381.8,313.1 L378.8,304.6M378.8,304.6 L382.4,300.8M393.2,310.0 L393.9,302.3M402.6,337.5 L397.9,324.2M402.5,317.9 L409.7,315.9M419.0,313.8 L412.0,313.5M409.7,315.9 L412.0,313.5M384.7,274.1 L391.7,260.5M390.0,283.5 L400.6,275.0M391.7,260.5 L398.6,263.3M409.2,242.7 L407.0,244.3M410.7,260.2 L409.4,259.6M407.0,244.3 L409.4,259.6M412.0,279.7 L400.6,275.0M412.0,279.7 L415.3,276.9M409.4,259.6 L398.6,263.3M401.8,461.7 L404.5,449.2M401.8,461.7 L396.3,462.2M396.3,462.2 L390.4,456.5M390.4,456.5 L391.7,447.1M391.7,447.1 L399.6,445.3M399.6,445.3 L404.5,449.2M411.4,468.2 L401.8,461.7M409.6,447.3 L404.5,449.2M412.1,469.7 L411.4,468.2M411.3,481.2 L412.1,469.7M385.6,476.7 L390.2,468.9 L396.3,462.2M374.6,470.0 L374.5,469.8M374.6,470.0 L383.4,476.8M374.5,469.8 L381.8,456.7M383.4,476.8 L385.6,476.7M381.8,456.7 L390.4,456.5M401.2,434.1 L400.1,434.9M400.1,434.9 L399.6,445.3M373.2,333.3 L379.2,325.7M387.1,326.7 L379.2,325.7M387.1,326.7 L387.5,337.3M387.5,337.3 L381.8,338.8M369.1,317.7 L375.5,318.6M369.1,317.7 L364.6,327.9M375.5,318.6 L379.2,325.7M364.6,327.9 L369.8,333.8M369.8,333.8 L373.2,333.3M375.5,318.6 L381.8,313.1M393.4,341.0 L387.5,337.3M384.0,351.7 L378.2,347.0M378.2,347.0 L381.8,338.8M373.1,348.1 L372.6,359.0M373.1,348.1 L366.1,344.0M365.1,344.3 L366.1,344.0M365.1,344.3 L361.0,356.5M361.0,356.5 L372.2,359.4M372.2,359.4 L372.6,359.0M383.9,358.8 L372.6,359.0M378.2,347.0 L373.1,348.1M369.8,333.8 L366.1,344.0M364.6,327.9 L355.5,328.0M352.9,341.3 L365.1,344.3M358.2,362.5 L366.2,370.2M371.0,370.0 L372.2,359.4M481.2,235.1 L479.3,223.2M469.7,224.0 L467.0,235.4M481.2,235.1 L477.5,237.7M477.5,237.7 L467.0,235.4M456.4,253.6 L445.9,252.8M456.4,253.6 L461.8,239.6M446.8,236.3 L440.9,245.0M453.9,234.8 L461.7,238.9M461.7,238.9 L461.8,239.6M452.9,268.9 L461.5,263.2M461.5,263.2 L461.0,258.8M461.0,258.8 L456.4,253.6M442.6,262.4 L445.9,252.8M470.6,252.6 L461.0,258.8M471.1,249.1 L461.8,239.6M470.6,252.6 L471.1,249.1M438.1,223.7 L446.8,236.3M456.1,222.6 L453.9,234.8M426.7,235.8 L425.9,228.5M439.1,245.0 L440.9,245.0M467.0,235.4 L461.7,238.9M471.1,249.1 L477.4,245.6M477.4,245.6 L477.5,237.7M461.9,355.3 L456.8,367.7M461.9,355.3 L450.6,347.1M450.6,347.1 L445.0,353.2M445.0,353.2 L447.8,368.8M447.8,368.8 L456.8,367.7M432.2,353.6 L445.0,353.2M450.8,338.7 L449.2,337.6M450.8,338.7 L450.6,347.1M446.0,370.5 L447.8,368.8M456.8,367.7 L463.5,372.9M472.2,353.5 L472.9,353.9M472.9,353.9 L472.4,362.6 L472.1,371.4M472.1,371.4 L463.5,372.9M463.3,323.0 L474.5,318.2M463.3,323.0 L462.1,333.9M462.1,333.9 L467.9,336.9M467.9,336.9 L482.9,331.9M474.5,318.2 L483.4,328.9M483.4,328.9 L482.9,331.9M450.8,338.7 L462.1,333.9M472.2,353.5 L470.5,345.1 L467.9,336.9M488.6,340.7 L482.9,331.9M480.1,353.2 L488.6,340.7M480.1,353.2 L472.9,353.9M431.6,306.6 L446.2,305.9M448.3,317.9 L446.2,305.9M463.3,323.0 L458.5,317.7M448.3,317.9 L458.5,317.7M476.4,309.5 L470.9,305.8M476.4,309.5 L474.5,318.2M470.9,305.8 L460.7,308.9M526.4,324.3 L526.4,324.3M518.2,299.7 L512.3,310.7M526.4,324.3 L519.1,322.4M512.3,310.7 L519.1,322.4M516.7,348.1 L503.7,342.7M528.4,333.2 L526.4,324.3M503.7,342.7 L506.0,330.9M519.1,322.4 L506.0,330.9M518.2,299.7 L518.1,298.9M541.3,295.7 L535.4,290.3 L528.9,285.5M528.9,285.5 L522.9,288.3M564.8,241.2 L561.8,243.5M561.4,259.0 L559.2,255.1M517.9,210.0 L524.1,216.2M536.8,206.2 L537.3,213.6M524.1,216.2 L537.3,213.6M447.9,425.9 L432.8,429.8M433.1,433.1 L432.8,429.8M449.7,426.7 L447.9,425.9M450.8,428.4 L449.7,426.7M450.8,428.4 L450.0,441.0M450.0,441.0 L445.2,443.3M467.6,427.5 L467.4,416.7M450.8,428.4 L459.3,429.0 L467.6,427.5M449.7,426.7 L452.7,418.4 L458.0,411.2M467.4,416.7 L459.4,410.9M474.0,448.4 L461.8,444.6M474.0,448.4 L481.5,441.9M481.5,441.9 L476.9,431.3M475.0,458.0 L474.0,448.4M459.5,445.5 L460.3,454.2 L457.8,462.5M462.6,465.7 L457.8,462.5M459.5,445.5 L461.8,444.6M450.0,441.0 L459.5,445.5M482.1,409.9 L474.4,412.6 L467.4,416.7M482.1,409.9 L486.8,422.1M486.8,422.1 L476.9,431.3M426.9,441.5 L433.1,433.1M432.8,429.8 L431.8,428.5M426.9,441.5 L423.8,441.9M431.8,428.5 L418.9,426.3M458.0,411.2 L450.0,408.9M450.0,408.9 L441.2,415.3M448.4,392.4 L453.0,385.1M448.4,392.4 L448.4,392.5M448.4,392.5 L455.8,395.8 L462.7,400.0M453.0,385.1 L460.9,383.1M464.7,398.6 L462.7,400.0M446.0,371.0 L453.0,385.1M443.5,390.6 L448.4,392.4M445.8,401.2 L450.0,408.9M445.8,401.2 L448.4,392.5M459.4,410.9 L462.7,400.0M463.5,372.9 L460.9,383.1M553.4,333.4 L547.8,343.8M553.4,333.4 L566.4,333.6 L579.3,332.7M547.8,343.8 L555.7,355.0M555.7,355.0 L564.4,353.1 L573.2,351.7M573.2,351.7 L578.0,342.7 L579.3,332.7M544.2,344.0 L547.8,343.8M580.6,331.5 L579.3,332.7M553.3,367.7 L555.7,355.0M530.4,366.8 L525.7,360.6M584.4,367.0 L580.1,358.4 L573.2,351.7M529.0,385.4 L524.3,388.6M542.4,407.9 L528.3,407.0M524.3,388.6 L527.7,397.5 L528.3,407.0M539.5,535.0 L533.7,544.2 L528.7,553.9M539.5,535.0 L533.3,526.5 L527.8,517.5M510.8,523.4 L514.7,535.2 L514.1,547.6M528.7,553.9 L514.1,547.6M544.7,505.6 L535.7,510.7 L527.8,517.5M489.3,551.5 L495.1,555.2M495.1,555.2 L504.5,551.2 L514.1,547.6M498.3,520.7 L510.8,523.4M467.0,581.3 L470.9,583.3M478.3,614.1 L481.1,608.6M470.9,583.3 L475.3,596.2 L481.1,608.6M495.1,555.2 L492.8,566.5 L498.0,576.8M470.9,583.3 L485.0,582.4 L498.0,576.8M536.9,631.9 L538.9,620.5 L537.3,609.0M570.6,615.8 L562.6,603.8M537.3,609.0 L549.8,605.7 L562.6,603.8M589.1,578.4 L578.6,585.0 L566.6,588.0M566.6,588.0 L563.2,595.5 L562.6,603.8M566.6,548.8 L556.7,559.7 L546.0,569.9M528.7,553.9 L532.1,561.7 L535.7,569.6M546.0,569.9 L535.7,569.6M170.2,281.7 L168.3,287.3M170.2,281.7 L164.8,276.4M168.3,287.3 L158.4,290.7M158.4,290.7 L154.2,288.9M154.0,287.9 L154.2,288.9M173.9,281.1 L182.5,288.2M173.9,281.1 L170.2,281.7M182.5,288.2 L177.3,294.8M168.8,265.7 L164.8,276.4M181.9,271.1 L173.9,281.1M162.7,299.1 L158.4,290.7M145.8,282.1 L154.0,287.9M340.3,350.6 L334.3,357.2M328.3,350.0 L331.7,357.6M334.3,357.2 L331.7,357.6M317.1,358.7 L327.8,362.6M316.1,356.8 L317.7,350.0M331.7,357.6 L327.8,362.6M324.2,371.8 L313.4,371.0M317.1,358.7 L312.5,368.7M327.8,362.6 L328.4,367.0M313.4,371.0 L312.5,368.7M316.8,393.1 L318.7,384.1M316.8,393.1 L325.1,396.7M331.8,392.9 L331.5,382.8M331.8,392.9 L325.1,396.7M324.9,380.4 L331.5,382.8M311.8,409.4 L309.3,406.2M309.3,406.2 L312.3,394.9M327.4,411.0 L325.1,396.7M338.2,395.0 L331.8,392.9M311.6,377.0 L313.4,371.0M311.6,377.0 L318.7,384.1M324.2,371.8 L324.9,380.4M244.2,309.5 L242.6,300.9M251.2,297.0 L252.7,305.6M244.2,309.5 L248.5,309.7M252.7,305.6 L248.5,309.7M263.9,297.4 L259.6,307.3M248.5,309.7 L252.1,315.9M259.6,307.3 L259.9,307.7M252.1,315.9 L258.6,314.3M280.0,336.0 L279.1,336.3M289.9,344.7 L283.4,350.4M288.6,340.5 L289.9,344.7M279.1,336.3 L276.8,345.6M283.4,350.4 L283.1,355.4M272.4,356.8 L271.3,347.7M271.3,347.7 L276.8,345.6M193.4,256.6 L196.4,263.2M186.3,272.3 L196.4,263.2M182.5,288.2 L186.8,287.5M185.1,303.8 L190.9,299.4M190.3,315.3 L183.9,306.9M190.9,299.4 L193.4,299.6M250.1,322.8 L252.1,315.9M250.1,322.8 L241.8,320.1M241.8,320.1 L239.9,312.4M234.0,300.2 L235.8,311.3M239.9,312.4 L235.8,311.3M203.7,308.4 L207.7,312.4M197.3,320.8 L199.3,321.2M199.3,321.2 L207.3,316.1M207.7,312.4 L207.3,316.1M226.4,310.3 L226.2,302.1M226.4,310.3 L217.5,310.2M217.5,310.2 L215.4,308.4M226.2,302.1 L221.5,301.1M221.5,301.1 L215.6,306.4M215.6,306.4 L215.4,308.4M229.8,313.8 L235.8,311.3M230.6,299.4 L226.2,302.1M229.8,313.8 L226.4,310.3M218.8,317.4 L212.4,321.5M218.8,317.4 L217.5,310.2M212.4,321.5 L207.3,316.1M221.9,289.4 L219.0,294.7M221.9,289.4 L226.9,289.5M219.0,294.7 L221.5,301.1M262.4,238.1 L252.1,240.1M269.1,257.5 L260.6,256.3 L252.4,254.2M252.1,240.1 L252.4,254.2M250.0,219.8 L247.4,227.9 L245.1,236.2M252.1,240.1 L245.1,236.2M252.4,254.2 L248.8,258.9M228.6,230.3 L242.1,236.6M245.1,236.2 L242.1,236.6M250.9,271.7 L243.2,273.9M241.1,281.1 L243.2,273.9M232.7,284.9 L232.9,284.3M241.1,281.1 L232.9,284.3M160.0,454.5 L170.0,447.7 L173.7,436.2M160.0,454.5 L174.8,456.5 L189.3,459.6M189.3,459.6 L191.4,454.9M191.4,454.9 L187.5,446.2 L184.3,437.3M160.0,454.5 L160.0,454.5M166.0,424.3 L173.7,436.2M308.9,447.6 L303.9,457.1 L299.4,466.9M299.5,440.3 L287.2,448.7M287.2,448.7 L291.2,463.4M272.7,434.4 L280.1,427.1M298.0,427.8 L289.1,427.1 L280.1,427.1M287.2,448.7 L275.9,443.9M249.4,455.5 L257.8,457.5 L265.1,462.2M249.4,455.5 L246.3,466.1 L238.5,474.1M251.1,484.0 L259.8,480.3 L269.1,478.0M251.1,484.0 L244.7,479.2 L238.5,474.1M269.1,478.0 L269.9,471.5M275.9,443.9 L271.5,453.6 L265.1,462.2M291.2,463.4 L281.1,469.0 L269.9,471.5M309.3,406.2 L296.8,407.7M298.2,427.6 L295.7,418.4 L295.6,408.9M278.5,412.3 L280.1,427.1M278.5,412.3 L282.4,408.1M295.6,408.9 L282.4,408.1M296.8,407.7 L295.7,393.3M295.7,393.3 L282.2,395.1M282.4,408.1 L280.9,397.1M280.9,397.1 L282.2,395.1M220.4,461.9 L220.5,450.0M191.4,454.9 L200.0,450.5 L209.0,447.0M209.0,447.0 L220.5,450.0M245.4,447.7 L235.7,446.9 L226.0,445.7M245.4,447.7 L249.4,455.5M220.5,450.0 L226.0,445.7M225.5,338.2 L232.0,345.1M227.5,353.5 L232.0,345.1M222.1,338.5 L216.3,347.4M222.1,338.5 L225.5,338.2M227.5,353.5 L220.5,355.1M204.2,329.5 L197.9,334.3M204.2,329.5 L205.7,329.8M198.0,340.0 L197.9,334.3M198.0,340.0 L207.0,343.4M199.3,321.2 L204.2,329.5M191.7,330.0 L197.9,334.3M212.7,324.1 L205.7,329.8M212.7,324.1 L212.4,321.5M216.4,335.0 L216.8,327.3M216.8,327.3 L212.7,324.1M185.4,339.1 L188.7,330.5M195.4,341.8 L198.0,340.0M216.3,347.4 L207.6,345.1M207.6,345.1 L207.0,343.4M222.1,338.5 L216.4,335.0M158.0,321.7 L165.4,320.3M167.3,311.6 L168.1,313.3M168.1,313.3 L165.4,320.3M185.4,320.2 L177.0,318.6M178.5,328.5 L174.7,323.7M178.5,328.5 L176.8,333.2M176.8,333.2 L166.1,334.7M166.1,334.7 L169.3,324.8M169.3,324.8 L174.7,323.7M185.1,327.0 L178.5,328.5M177.0,318.6 L174.7,323.7M182.6,340.8 L176.8,333.2M165.5,335.3 L166.1,334.7M165.4,320.3 L169.3,324.8M279.4,494.2 L272.4,487.3 L269.1,478.0M299.4,466.9 L301.8,470.6M293.2,494.1 L296.6,482.0 L301.8,470.6M327.6,466.0 L327.4,467.0M301.8,470.6 L310.5,472.1 L319.3,472.7M359.9,443.3 L365.6,431.4M370.4,448.2 L371.4,447.9M365.6,431.4 L375.2,435.1M381.8,456.7 L377.7,449.7M391.7,447.1 L386.5,442.3M377.7,449.7 L371.4,447.9M364.8,429.4 L373.3,418.5M364.8,429.4 L356.1,424.9M355.9,421.7 L363.7,411.9M355.9,421.7 L356.1,424.9M349.3,430.9 L356.1,424.9M365.6,431.4 L364.8,429.4M347.7,415.1 L355.9,421.7M363.4,410.7 L363.7,411.9M372.3,400.6 L373.0,400.6M378.9,411.6 L373.0,400.6M378.9,411.6 L373.5,418.5M373.5,418.5 L373.3,418.5M388.8,422.6 L389.3,423.0M388.8,422.6 L379.3,423.9M389.3,423.0 L390.5,433.9M377.8,434.0 L386.1,437.8M390.5,433.9 L386.1,437.8M388.2,409.9 L388.8,422.6M378.9,411.6 L388.2,409.9M373.5,418.5 L379.3,423.9M400.1,434.9 L390.5,433.9M403.5,425.7 L401.6,421.7M375.2,435.1 L377.8,434.0M386.5,442.3 L386.1,437.8M261.6,612.5 L273.6,605.0 L286.7,599.8M295.6,624.9 L293.3,614.2 L286.7,599.8M352.2,621.0 L336.5,621.3 L320.9,619.7M313.9,627.6 L320.9,619.7M267.3,571.2 L258.6,583.5 L249.3,595.4M261.6,612.5 L254.3,604.8 L249.3,595.4M267.3,571.2 L279.0,581.5 L289.4,593.1M289.4,593.1 L286.7,599.8M357.1,610.3 L350.7,599.1M350.7,599.1 L339.6,596.3 L328.3,593.9 L317.0,591.4M358.2,362.5 L354.1,365.3M357.5,376.0 L353.0,372.3M353.0,372.3 L354.1,365.3M347.9,353.3 L345.3,362.1M354.1,365.3 L345.3,362.1M345.3,362.1 L343.5,363.1M375.0,288.4 L366.0,300.2M357.8,295.5 L366.0,300.2M382.4,300.8 L380.5,289.5M367.7,304.0 L366.0,300.2M369.1,317.7 L365.2,311.3M367.7,304.0 L365.2,311.3M352.7,324.7 L357.0,313.2M365.2,311.3 L357.0,313.2M316.6,323.8 L318.3,320.7M330.3,322.3 L327.8,318.7M327.8,318.7 L318.3,320.7M287.8,311.1 L295.1,320.0M283.3,322.8 L283.0,314.3M287.8,311.1 L287.2,311.0M287.2,311.0 L283.0,314.3M308.9,326.2 L306.3,320.9M302.5,331.1 L307.1,330.5M295.2,320.1 L296.3,319.3M306.3,320.9 L296.3,319.3M318.9,292.6 L317.4,290.6M318.9,292.6 L330.3,296.5M317.4,290.6 L322.4,282.5M322.4,282.5 L334.9,283.0M330.3,296.5 L335.1,284.5M334.9,283.0 L335.1,284.5M337.7,278.5 L334.9,283.0M318.9,275.6 L322.4,282.5M344.9,293.7 L335.1,284.5M295.9,273.6 L298.4,279.5M310.2,276.3 L307.0,282.0M298.4,279.5 L293.5,287.2M311.8,290.3 L308.2,287.2M308.2,287.2 L307.0,282.0M273.2,292.3 L279.4,294.6M283.2,283.8 L282.2,292.8M279.4,294.6 L282.2,292.8M413.2,415.1 L402.4,419.1M413.2,415.1 L414.2,410.2M413.5,408.8 L402.5,405.7M402.4,419.1 L399.3,410.1M402.5,405.7 L399.3,410.1M401.6,421.7 L402.4,419.1M418.8,423.6 L418.9,426.3M418.8,423.6 L413.2,415.1M402.4,403.9 L402.5,405.7M416.9,398.5 L413.5,408.8M388.2,409.9 L388.3,409.8M388.3,409.8 L399.3,410.1M380.5,381.9 L387.3,386.7M387.3,386.7 L392.5,383.0M405.2,389.4 L400.3,389.7M402.4,403.9 L395.7,396.3M400.3,389.7 L395.7,396.3M400.4,377.3 L395.2,383.2M400.3,389.7 L395.2,383.2M395.2,383.2 L392.5,383.0M411.9,226.0 L411.5,226.3M411.9,226.0 L412.0,217.4 L412.2,208.7M411.5,226.3 L399.0,226.1M412.2,208.7 L398.0,203.5M393.2,215.7 L398.0,203.5M425.9,228.5 L411.9,226.0M409.2,242.7 L409.2,234.3 L411.5,226.3M424.5,204.0 L412.2,208.7M398.0,203.4 L398.0,203.5M373.5,208.4 L379.2,220.8M379.2,220.8 L393.2,215.7M396.5,291.2 L410.4,288.4M396.5,291.2 L395.7,300.6M395.7,300.6 L409.0,304.9M409.0,304.9 L413.8,293.6M413.8,293.6 L410.4,288.4M390.0,284.0 L396.5,291.2M412.0,279.7 L410.4,288.4M393.9,302.3 L395.7,300.6M412.0,313.5 L409.0,304.9M429.6,305.4 L429.4,303.7M422.7,295.0 L413.8,293.6M387.8,254.9 L376.5,253.4M393.0,235.9 L395.8,242.7M393.0,235.9 L384.0,233.9 L375.5,230.3M374.6,230.9 L375.5,230.3M374.6,230.9 L373.7,240.1 L370.9,248.9M370.9,248.9 L376.5,253.4M391.7,260.5 L387.8,254.9M407.0,244.3 L395.8,242.7M373.0,272.1 L376.0,263.0 L376.5,253.4M399.0,226.1 L393.0,235.9M379.2,220.8 L375.5,230.3M357.6,252.1 L370.9,248.9M461.5,263.2 L468.1,268.6M453.0,280.6 L455.3,283.3M455.3,283.3 L465.6,279.1M448.8,302.7 L454.8,302.5M448.8,302.7 L445.2,293.8M454.8,302.5 L460.9,294.1M445.2,293.8 L455.3,284.2M455.3,284.2 L460.9,294.1M446.2,305.9 L448.8,302.7M460.7,308.9 L454.8,302.5M439.2,291.8 L445.2,293.8M468.4,295.5 L460.9,294.1M455.3,283.3 L455.3,284.2M504.3,310.6 L496.1,320.3M504.3,310.6 L497.2,300.4M497.2,300.4 L486.2,308.9M486.2,308.9 L493.9,320.3M493.9,320.3 L496.1,320.3M512.3,310.7 L504.3,310.6M518.1,298.9 L504.0,292.6M480.8,307.7 L486.2,308.9M476.4,309.5 L480.8,307.7M483.4,328.9 L493.9,320.3M503.2,342.9 L503.7,342.7M487.9,284.1 L487.4,292.2M487.9,284.1 L478.9,281.8M478.9,281.8 L473.2,284.7M482.4,295.6 L487.4,292.2M472.6,291.5 L473.2,284.7M503.9,289.8 L504.0,292.6M503.9,289.8 L492.1,280.7M492.1,280.7 L487.9,284.1M480.8,307.7 L482.4,295.6M468.4,295.5 L472.6,291.5M465.6,279.1 L473.2,284.7M506.3,213.3 L508.0,227.8M508.0,227.8 L521.7,228.3M492.1,280.7 L493.1,277.2M503.9,289.8 L509.2,282.0M502.9,274.3 L509.2,282.0M522.9,288.3 L513.9,281.1M509.2,282.0 L513.9,281.1M545.6,224.0 L543.3,223.1M545.6,224.0 L548.0,239.6M543.3,223.1 L532.7,230.9M532.7,230.9 L535.6,245.8M548.0,239.6 L539.2,246.1M535.6,245.8 L539.2,246.1M537.3,213.6 L543.3,223.1M561.8,243.5 L548.0,239.6M521.7,228.3 L521.9,228.5M530.2,248.6 L535.6,245.8M520.7,242.0 L530.2,248.6M520.7,242.0 L521.9,228.5M559.2,255.1 L546.5,256.8M434.5,449.3 L441.9,448.1M434.5,449.3 L429.3,456.4M429.3,456.4 L432.6,466.5M446.8,464.0 L439.4,471.2M439.4,471.2 L432.6,466.5M426.9,441.5 L434.5,449.3M445.2,443.3 L441.9,448.1M457.8,462.5 L446.8,464.0M412.1,469.7 L422.7,470.1 L432.6,466.5M439.4,472.0 L439.4,471.2M506.8,438.7 L500.2,436.4M506.8,438.7 L515.0,433.7 L522.9,428.0M500.2,436.4 L496.1,425.8M496.1,425.8 L503.5,419.4 L507.6,410.6M519.3,416.0 L507.6,410.6M511.7,454.5 L508.9,446.7 L506.8,438.7M527.7,430.5 L522.9,428.0M486.8,422.1 L496.1,425.8M528.3,407.0 L519.3,416.0M433.4,418.6 L426.4,414.2M433.4,418.6 L439.8,415.0M427.7,406.3 L434.1,404.1M427.7,406.3 L425.5,410.7M425.5,410.7 L426.4,414.2M431.8,428.5 L433.4,418.6M418.8,423.6 L426.4,414.2M441.2,415.3 L439.8,415.0M419.4,397.0 L427.7,406.3M433.3,394.0 L434.1,404.1M414.2,410.2 L425.5,410.7M523.0,359.7 L515.6,365.2 L507.8,370.0M524.3,388.6 L515.2,388.2M515.2,388.2 L509.8,380.1 L507.7,370.5M503.2,342.9 L500.3,351.0 L497.9,359.2M507.8,370.0 L497.9,359.2M480.1,353.2 L488.4,361.3M488.4,361.3 L497.9,359.2M464.7,398.6 L473.9,400.2 L482.7,403.0M483.4,405.4 L482.7,403.0M483.4,405.4 L494.8,406.7 L506.1,407.8M515.2,388.2 L507.8,394.2M506.1,407.8 L507.8,394.2M510.5,608.6 L499.6,601.8M510.5,608.6 L520.1,606.0 L529.4,602.2M499.6,601.8 L499.3,590.1 L499.9,578.5M499.9,578.5 L514.5,576.0 L529.1,577.7M529.4,602.2 L529.1,589.9 L529.1,577.7M507.3,633.2 L508.7,620.9 L510.5,608.6M481.1,608.6 L490.4,605.2 L499.6,601.8M537.3,609.0 L529.4,602.2M498.0,576.8 L499.9,578.5M298.8,335.0 L300.3,341.2M289.9,344.7 L294.5,346.7M294.5,346.7 L300.3,341.2M300.3,341.2 L309.0,343.4M294.5,346.7 L295.8,349.2M309.0,343.4 L304.0,351.3M295.8,349.2 L304.0,351.3M316.1,356.8 L305.7,356.3M305.7,356.3 L304.0,351.3M285.9,364.8 L297.7,370.5M285.9,364.8 L286.5,360.2M286.5,360.2 L293.7,356.9M293.7,356.9 L302.0,361.7M297.7,370.5 L302.2,365.3M302.2,365.3 L302.0,361.7M283.1,355.4 L286.5,360.2M295.8,349.2 L293.7,356.9M312.5,368.7 L302.2,365.3M289.8,380.7 L297.7,390.5M305.0,379.9 L302.5,389.2M302.5,389.2 L297.7,390.5M283.7,366.9 L285.9,364.8M283.7,366.9 L285.1,380.3M285.1,380.3 L289.8,380.7M280.8,383.0 L282.2,395.1M285.1,380.3 L280.8,383.0M311.6,377.0 L305.0,379.9M312.3,394.9 L302.5,389.2M240.6,333.2 L233.6,344.8M240.6,333.2 L244.5,333.7M244.5,333.7 L247.8,343.3M275.0,322.8 L271.3,325.8M282.8,323.5 L275.0,322.8M279.1,336.3 L271.6,333.3M271.3,325.8 L271.6,333.3M250.3,323.2 L261.8,323.0M258.6,314.3 L263.3,319.6M263.3,319.6 L263.3,321.8M261.8,323.0 L263.3,321.8M209.4,253.2 L208.4,261.5M196.4,263.2 L200.3,264.6M208.4,261.5 L200.3,264.6M199.6,276.9 L188.2,275.1M199.6,276.9 L199.1,286.9M199.1,286.9 L187.6,286.6M188.2,275.1 L187.6,286.6M186.3,272.3 L188.2,275.1M200.3,264.6 L201.8,275.2M201.8,275.2 L199.6,276.9M186.8,287.5 L187.6,286.6M200.0,296.0 L202.1,289.8M200.0,296.0 L205.2,301.3M205.2,301.3 L211.0,300.0M207.3,288.8 L202.1,289.8M207.3,288.8 L212.5,296.0M211.0,300.0 L212.5,296.0M199.1,286.9 L202.1,289.8M193.4,299.6 L200.0,296.0M203.7,308.4 L205.2,301.3M215.6,306.4 L211.0,300.0M219.0,294.7 L212.5,296.0M223.8,325.4 L223.2,319.3M229.8,313.8 L229.8,313.8M223.2,319.3 L229.8,313.8M239.0,331.5 L228.2,331.3M238.4,323.5 L232.8,322.5M232.8,322.5 L227.3,327.9M228.2,331.3 L227.3,327.9M225.5,338.2 L228.2,331.3M232.0,345.1 L233.6,344.8M240.6,333.2 L239.0,331.5M250.3,323.2 L249.8,329.8M249.8,329.8 L244.5,333.7M241.8,320.1 L238.4,323.5M223.8,325.4 L227.3,327.9M248.8,258.9 L242.6,258.6M235.2,251.0 L242.6,258.6M222.5,250.3 L225.7,253.4M235.2,251.0 L225.7,253.4M253.4,433.3 L248.0,426.5 L241.6,420.7M259.9,431.2 L260.8,420.0 L262.6,408.8M241.6,420.7 L245.6,413.8 L250.2,407.2M250.2,407.2 L261.9,408.0M261.9,408.0 L262.6,408.8M245.4,447.7 L251.1,441.4 L253.4,433.3M272.7,434.4 L259.9,431.2M278.5,412.3 L270.8,409.4 L262.6,408.8M265.2,395.0 L261.9,408.0M227.7,400.6 L230.0,392.3 L232.6,384.1M244.6,399.5 L247.7,392.1M232.6,384.1 L241.1,380.6M265.2,395.0 L262.7,388.7M244.6,399.5 L250.2,407.2M247.7,392.1 L262.7,388.7M184.3,437.3 L190.5,429.4M177.8,414.5 L184.2,415.8M190.5,429.4 L184.2,415.8M196.1,401.5 L196.4,404.7M184.2,415.8 L189.6,409.4 L196.4,404.7M226.6,401.4 L231.9,410.5 L235.9,420.1M224.5,401.5 L216.6,408.9 L209.5,417.1M235.9,420.1 L225.1,428.9M225.1,428.9 L217.9,423.3 L209.7,419.3M209.5,417.1 L209.7,419.3M241.6,420.7 L235.9,420.1M227.7,400.6 L226.6,401.4M226.0,445.7 L228.3,437.2 L225.1,428.9M196.4,404.7 L203.2,410.6 L209.5,417.1M196.1,401.5 L203.5,396.4 L210.6,391.1M224.5,401.5 L212.8,391.2M212.8,391.2 L210.6,391.1M212.8,391.2 L216.6,383.4 L221.3,376.1M293.2,494.1 L304.3,502.7M319.3,472.7 L319.4,482.5 L319.7,492.4M319.7,492.4 L312.3,498.0 L304.3,502.7M279.4,494.2 L274.5,504.6 L266.7,513.1M294.5,527.8 L285.3,526.2 L276.1,527.3M294.5,527.8 L299.9,516.9 L304.9,505.8M266.7,513.1 L270.2,521.0 L276.1,527.3M304.3,502.7 L304.9,505.8M304.9,505.8 L317.7,513.5 L329.5,522.7M228.9,596.6 L230.6,594.9M228.9,596.6 L217.6,596.3 L206.4,596.8M230.6,594.9 L231.2,580.0 L229.4,565.2M206.4,596.8 L197.9,583.8 L195.6,568.5M195.6,568.5 L204.1,561.8M204.1,561.8 L216.7,560.8 L228.9,564.4M228.9,564.4 L229.4,565.2M249.3,595.4 L240.0,594.2 L230.6,594.9M201.1,605.3 L206.4,596.8M202.7,533.5 L201.2,547.7 L204.1,561.8M202.7,533.5 L199.7,529.9M236.4,531.9 L238.3,537.8M238.3,537.8 L236.4,552.1 L228.9,564.4M202.7,533.5 L213.9,531.5 L225.2,533.2 L236.4,531.9M267.7,549.4 L253.2,543.2 L238.3,537.8M271.0,559.2 L267.7,549.4M247.2,497.9 L255.3,506.4 L265.0,513.0M247.2,497.9 L232.9,501.6M265.0,513.0 L256.0,519.5 L245.1,522.9 L236.8,530.4M236.8,530.4 L235.9,518.4 L228.9,508.5M228.9,508.5 L232.9,501.6M251.1,484.0 L247.2,497.9M266.7,513.1 L265.0,513.0M276.1,527.3 L271.0,538.0 L267.7,549.4M236.4,531.9 L236.8,530.4M210.9,507.8 L219.8,509.2 L228.9,508.5M271.0,559.2 L282.0,558.1 L292.8,556.9 L303.3,553.2M303.3,553.2 L307.1,548.1M289.4,593.1 L298.0,590.6 L306.4,587.4M303.3,553.2 L305.1,564.5 L304.9,576.0 L306.4,587.4M317.0,591.4 L315.8,590.0M306.4,587.4 L315.8,590.0M363.1,571.8 L363.2,561.8 L362.8,551.8M354.0,578.2 L342.9,575.5 L333.8,568.7M362.8,551.8 L352.0,549.9 L341.0,548.9M341.0,548.9 L332.4,557.6M332.4,557.6 L333.8,568.7M383.8,580.0 L373.5,575.8 L363.1,571.8M350.7,599.1 L352.7,588.7 L354.0,578.2M396.0,561.0 L383.3,552.5 L371.8,542.7M371.8,542.7 L362.8,551.8M315.8,590.0 L325.5,580.0 L333.8,568.7M307.1,548.1 L319.4,554.0 L332.4,557.6M334.9,370.7 L341.9,367.8M334.9,370.7 L335.9,380.0M341.9,367.8 L346.9,374.2M346.9,374.2 L344.0,381.9M344.0,381.9 L335.9,380.0M328.4,367.0 L334.9,370.7M343.5,363.1 L341.9,367.8M331.5,382.8 L335.9,380.0M353.0,372.3 L346.9,374.2M336.3,309.8 L336.3,301.3M336.3,309.8 L342.9,313.3M342.9,313.3 L349.7,307.7M342.0,299.6 L349.7,307.3M342.0,299.6 L336.3,301.3M349.7,307.7 L349.7,307.3M330.9,298.1 L336.3,301.3M330.9,298.1 L323.2,307.3M323.2,307.3 L328.4,314.2M328.4,314.2 L336.3,309.8M327.8,318.7 L328.4,314.2M357.8,295.5 L349.7,307.3M344.9,293.7 L342.0,299.6M271.4,303.1 L276.4,304.3M271.4,303.1 L267.2,309.8M276.4,304.3 L276.6,312.7M267.2,309.8 L268.7,313.6M274.0,314.8 L276.6,312.7M279.3,302.8 L279.4,294.6M279.3,302.8 L276.4,304.3M259.9,307.7 L267.2,309.8M283.5,303.9 L279.3,302.8M283.0,314.3 L276.6,312.7M263.3,319.6 L268.7,313.6M275.0,322.8 L274.0,314.8M323.2,307.3 L320.1,306.7M306.3,320.9 L309.3,313.9M318.9,292.6 L317.7,304.0M317.7,304.0 L320.1,306.7M293.5,287.2 L294.1,288.9M308.2,287.2 L298.3,291.3M298.3,291.3 L294.1,288.9M294.1,288.9 L288.6,295.3M283.5,303.9 L289.3,299.2M289.3,299.2 L288.6,295.3M387.7,405.3 L378.4,396.8M393.4,396.6 L386.7,391.3M378.4,396.8 L378.6,396.3M388.3,409.8 L387.7,405.3M395.7,396.3 L393.4,396.6M387.3,386.7 L386.7,391.3M374.0,385.2 L378.6,396.3M471.6,268.0 L478.5,272.5M471.6,268.0 L478.2,259.2M478.5,272.5 L489.1,268.7M479.0,259.1 L478.2,259.2M479.0,259.1 L489.3,267.1M468.1,268.6 L471.6,268.0M478.9,281.8 L478.5,272.5M493.1,277.2 L489.1,268.7M477.4,245.6 L484.0,249.7M484.3,251.6 L484.0,249.7M496.7,259.1 L495.3,256.8M496.7,259.1 L489.3,267.1M495.3,256.8 L484.3,251.6M496.7,259.1 L499.9,259.6M499.9,259.6 L506.9,265.6M506.9,265.6 L502.9,274.3M496.6,243.5 L490.9,240.8M496.6,243.5 L505.7,241.0M494.2,228.1 L506.1,229.8M506.1,229.8 L505.7,241.0M495.3,256.8 L496.6,243.5M484.0,249.7 L490.9,240.8M510.1,245.3 L505.7,241.0M510.0,247.1 L510.1,245.3M499.9,259.6 L504.4,252.9 L510.0,247.1M489.4,219.9 L494.2,228.1M510.1,245.3 L520.7,242.0M513.9,281.1 L517.4,270.8M510.7,265.4 L517.4,270.8M510.7,265.4 L516.2,256.6M530.2,248.6 L527.4,256.2M516.2,256.6 L527.4,256.2M479.6,376.3 L476.4,385.0M485.1,374.8 L492.8,378.9M476.4,385.0 L483.7,398.5M492.8,378.9 L495.2,388.7M483.7,398.5 L495.2,388.7M472.1,371.4 L479.6,376.3M488.4,361.3 L485.1,374.8M507.7,370.5 L500.0,374.3 L492.8,378.9M482.7,403.0 L483.7,398.5M507.8,394.2 L495.2,388.7M266.3,336.6 L259.7,335.0M266.3,336.6 L267.7,345.9M253.6,344.8 L258.8,335.2M253.6,344.8 L262.0,349.1M262.0,349.1 L267.7,345.9M271.6,333.3 L266.3,336.6M261.8,323.0 L259.7,335.0M271.3,347.7 L267.7,345.9M249.8,329.8 L258.8,335.2M252.6,345.2 L247.8,343.3M208.4,261.5 L215.4,268.0M201.8,275.2 L207.9,276.2M207.9,276.2 L215.4,268.0M207.9,276.2 L211.5,284.1M221.9,289.4 L217.5,284.1M217.5,284.1 L211.5,284.1M234.2,268.7 L229.6,276.7M234.2,268.7 L234.2,268.6M234.2,268.6 L225.3,261.3M225.3,261.3 L216.5,268.1M243.2,273.9 L234.2,268.7M232.9,284.3 L229.6,276.7M242.6,258.6 L234.2,268.6M225.7,253.4 L225.3,261.3M215.4,268.0 L216.5,268.1M252.6,345.2 L250.0,356.9M250.0,356.9 L261.6,358.4M199.6,376.8 L200.0,376.9M199.6,376.8 L194.8,368.4M200.0,376.9 L208.6,371.9M208.6,371.9 L209.1,360.1M194.8,368.4 L197.9,356.8M197.9,356.8 L202.8,355.9M210.6,391.1 L206.1,383.4 L200.0,376.9M178.5,367.4 L186.6,368.8 L194.8,368.4M221.3,376.1 L221.1,375.3M223.1,371.1 L221.1,375.3M218.4,358.2 L209.1,360.1M193.3,353.7 L197.9,356.8M220.5,355.1 L218.4,358.2M207.6,345.1 L202.8,355.9M393.5,502.0 L386.1,504.9M383.4,476.8 L380.6,486.2 L375.6,494.6M375.6,494.6 L386.1,504.9M402.0,529.9 L390.6,529.3 L379.9,525.7M386.1,504.9 L382.9,515.3 L379.9,525.7M341.0,548.9 L337.4,536.5 L337.3,523.5M337.3,523.5 L348.5,525.6 L358.5,520.2M329.5,522.7 L334.9,522.2M337.3,523.5 L334.9,522.2M319.7,492.4 L327.9,493.8 L335.5,496.9M334.9,522.2 L333.9,509.5 L335.5,496.9M300.1,311.2 L307.2,311.4M300.1,311.2 L296.6,305.1M307.2,311.4 L309.2,303.3M300.1,300.1 L306.9,300.3M306.9,300.3 L309.2,303.3M296.6,305.1 L296.8,303.2M309.3,313.9 L307.2,311.4M287.8,311.1 L296.6,305.1M317.7,304.0 L309.2,303.3M298.3,291.3 L300.1,300.1M289.3,299.2 L296.8,303.2M311.8,290.3 L306.9,300.3M529.6,263.2 L542.9,264.6M530.9,279.0 L539.4,277.8 L547.6,274.9M547.6,274.9 L542.9,264.6M527.4,256.2 L529.6,263.2M528.9,285.5 L530.9,279.0M546.5,256.8 L542.9,264.6M223.1,371.1 L236.2,365.3M241.1,380.6 L242.3,378.2M242.3,378.2 L236.2,365.3M227.5,353.5 L236.6,363.8M236.6,363.8 L243.7,359.0M236.6,363.8 L236.2,365.3M250.0,356.9 L247.0,359.0M243.7,359.0 L247.0,359.0M269.3,379.9 L264.2,382.9M269.3,379.9 L272.4,367.9M264.2,382.9 L254.2,374.1M272.4,367.9 L268.5,362.1M268.5,362.1 L264.0,361.2M280.8,383.0 L269.3,379.9M262.7,388.7 L264.2,382.9M283.7,366.9 L272.4,367.9M242.3,378.2 L254.2,374.1M272.4,356.8 L268.5,362.1M261.6,358.4 L264.0,361.2M340.7,479.2 L340.2,493.1M340.7,479.2 L352.0,474.2M352.0,474.2 L360.8,480.2M360.8,480.2 L362.1,494.9M362.1,494.9 L359.6,497.1M327.4,467.0 L334.4,472.7 L340.7,479.2M335.5,496.9 L340.2,493.1M353.8,461.0 L352.0,474.2M358.5,520.2 L355.3,508.5 L359.6,497.1M375.6,494.6 L362.1,494.9M783.7,477.1 L809.9,477.8M809.9,477.8 L898.2,480.1" fill="none" stroke="#7a4630" stroke-width="1.5" stroke-linejoin="round"/><path d="M493.3,193.1 L502.1,201.9 L509.9,198.0 L512.8,207.8 L520.7,202.9 L526.5,201.9 L529.4,207.8 L545.1,204.4 L544.1,229.3 L551.9,248.8 L559.8,252.8 L560.2,261.5 L569.0,262.5 L557.3,273.8 L551.4,273.8 L532.4,246.9 L513.8,231.7 L495.7,238.6 L484.5,215.6 L491.8,211.7 L489.4,205.8 L494.3,196.1Z" fill="#e4874f" stroke="#7a4630" stroke-width="1.5" stroke-linejoin="round"/><path d="M318.7,316.8 L346.6,313.8 L343.6,320.7 L328.7,322.7 L326.7,328.7 L336.6,336.7 L338.6,342.6 L334.7,348.6 L344.6,354.6 L340.6,364.6 L328.7,354.6 L320.7,348.6 L312.7,338.7 L313.7,324.7Z" fill="#e4874f" stroke="#7a4630" stroke-width="1.5" stroke-linejoin="round"/><path d="M389.8,370.5 L397.8,374.5 L395.8,382.5 L391.8,382.5Z" fill="#e4874f" stroke="#7a4630" stroke-width="1.5" stroke-linejoin="round"/><path d="M350.0,338.7 L356.0,334.7 L359.0,340.7 L350.0,343.6Z" fill="#e4874f" stroke="#7a4630" stroke-width="1.5" stroke-linejoin="round"/><path d="M731.8,504.4 L759.0,498.4 L759.0,515.0 L742.8,517.0 L740.7,525.2 L761.1,530.3 L759.1,541.5 L761.1,557.8 L750.9,561.9 L755.0,574.1 L738.7,575.1 L734.6,568.0 L702.0,570.0 L702.0,557.8 L708.1,537.4 L720.4,529.3 L728.5,515.0Z" fill="#e4874f" stroke="#7a4630" stroke-width="1.5" stroke-linejoin="round"/><path d="M476.3,639.3 L523.2,639.7 L533.3,654.5 L498.7,673.5 L481.4,673.5Z" fill="#e4874f" stroke="#7a4630" stroke-width="1.5" stroke-linejoin="round"/><path d="M323.9,629.1 L328.0,614.8 L344.3,612.8 L377.5,615.8 L376.5,620.9 L352.0,633.0 L350.0,642.0Z" fill="#e4874f" stroke="#7a4630" stroke-width="1.5" stroke-linejoin="round"/><path d="M546.1,204.9 L571.5,209.3 L577.8,243.5 L569.5,262.0 L560.7,261.6 L559.3,252.8 L551.9,248.8 L544.6,229.3Z" fill="#f9ede5" stroke="#7a4630" stroke-width="1.5" stroke-linejoin="round"/><path d="M429.7,171.0 L447.0,165.3 L462.0,170.0 L480.0,177.0 L493.4,193.0 L489.0,211.0 L462.0,205.0 L442.0,195.0Z" fill="#f9ede5" stroke="#7a4630" stroke-width="1.5" stroke-linejoin="round"/><path d="M505.0,240.0 L513.8,231.7 L532.4,246.9 L535.0,265.0 L512.0,265.0Z" fill="#f9ede5" stroke="#7a4630" stroke-width="1.5" stroke-linejoin="round"/><path d="M185.3,310.0 L202.0,291.0 L225.1,295.0 L222.0,325.0 L202.0,338.7 L187.0,335.0Z" fill="#f9ede5" stroke="#7a4630" stroke-width="1.5" stroke-linejoin="round"/><path d="M242.0,279.0 L257.0,280.0 L265.0,295.0 L258.0,307.0 L244.0,303.0Z" fill="#f9ede5" stroke="#7a4630" stroke-width="1.5" stroke-linejoin="round"/><path d="M289.0,265.0 L302.0,255.0 L315.0,258.0 L312.0,277.0 L294.0,279.0Z" fill="#f9ede5" stroke="#7a4630" stroke-width="1.5" stroke-linejoin="round"/><path d="M161.0,431.0 L185.0,431.0 L191.0,445.0 L187.0,452.0 L164.0,447.0Z" fill="#f9ede5" stroke="#7a4630" stroke-width="1.5" stroke-linejoin="round"/><path d="M245.0,434.0 L254.0,414.0 L267.0,434.0Z" fill="#f9ede5" stroke="#7a4630" stroke-width="1.5" stroke-linejoin="round"/><path d="M196.0,255.0 L212.0,244.0 L226.0,255.0 L222.0,283.0 L202.0,285.0Z" fill="#f9ede5" stroke="#7a4630" stroke-width="1.5" stroke-linejoin="round"/><path d="M442.0,560.0 L458.0,555.0 L467.0,565.0 L452.0,580.0 L440.0,573.0Z" fill="#f9ede5" stroke="#7a4630" stroke-width="1.5" stroke-linejoin="round"/><path d="M387.0,417.0 L390.5,408.5 L401.0,402.0 L404.0,411.0 L397.0,414.0Z" fill="#e4874f" stroke="#7a4630" stroke-width="1.5" stroke-linejoin="round"/><path d="M397.0,416.0 L409.8,419.8 L408.8,430.0Z" fill="#e4874f" stroke="#7a4630" stroke-width="1.5" stroke-linejoin="round"/><path d="M412.0,431.0 L421.5,430.0 L421.0,437.5Z" fill="#e4874f" stroke="#7a4630" stroke-width="1.5" stroke-linejoin="round"/><path d="M401.0,402.0 L418.5,394.5 L412.0,419.0 L404.0,411.0Z" fill="#e0692b" stroke="#7a4630" stroke-width="1.5" stroke-linejoin="round"/><path d="M710.6,540.0 L720.0,536.0 L728.8,549.0 L716.0,553.0Z" fill="#fdfcfa" stroke="#7a4630" stroke-width="1.5" stroke-linejoin="round"/><path d="M99.6,259.0 L119.5,255.0 L130.5,248.0 L131.5,256.0 L145.4,247.0 L159.4,236.0 L189.2,239.0 L190.2,247.0 L209.0,249.0 L215.0,239.0 L207.0,228.0 L202.0,209.0 L203.0,197.0 L214.0,180.0 L225.0,181.0 L240.0,178.0 L242.0,189.0 L247.0,203.0 L254.0,211.0 L259.0,225.0 L273.0,227.0 L287.0,214.0 L293.0,215.0 L307.0,204.0 L330.0,196.0 L350.0,204.0 L362.0,191.2 L373.9,189.2 L389.8,183.3 L399.8,169.3 L409.8,157.4 L415.7,143.4 L411.8,127.5 L419.7,115.5 L419.7,108.6 L435.7,118.5 L457.6,123.5 L467.5,139.4 L469.5,151.4 L474.7,155.0 L483.5,164.8 L485.5,173.6 L492.3,184.3 L494.3,193.1 L502.1,201.9 L509.9,198.0 L512.8,207.8 L520.7,202.9 L526.5,201.9 L529.4,207.8 L545.1,204.4 L549.0,203.4 L571.5,208.8 L578.3,243.0 L569.5,262.5 L565.6,277.2 L561.7,285.0 L567.1,294.8 L593.0,322.7 L618.9,318.7 L638.8,308.8 L664.7,294.8 L678.7,283.9 L688.6,294.8 L674.7,305.8 L700.0,340.7 L709.0,353.6 L735.9,362.6 L741.8,376.5 L737.8,387.5 L930.1,397.4 L884.0,517.0 L881.3,527.2 L898.6,561.9 L897.6,574.0 L886.4,580.2 L905.7,613.8 L863.0,594.4 L822.2,582.2 L791.7,576.1 L761.1,574.1 L740.7,576.1 L712.2,580.2 L700.0,579.2 L686.1,584.3 L675.9,592.4 L659.6,600.6 L657.6,610.7 L645.4,618.9 L623.0,622.0 L604.6,630.1 L584.3,635.2 L533.3,654.5 L498.7,673.5 L468.1,671.9 L449.8,679.6 L437.6,678.0 L411.1,667.8 L384.6,662.7 L366.3,655.6 L350.0,643.0 L323.9,629.1 L289.3,624.0 L254.6,617.9 L236.3,620.9 L215.9,617.9 L195.6,600.6 L179.3,591.4 L134.4,570.0 L118.2,564.9 L99.8,560.8 L77.4,553.7 L81.5,545.6 L105.9,539.4 L113.0,527.2 L108.0,515.0 L107.6,510.0 L137.5,502.0 L135.5,480.1 L153.4,472.1 L157.4,470.1 L161.4,446.2 L159.4,432.3 L165.3,420.3 L155.4,408.4 L139.4,400.4 L139.4,394.4 L137.5,380.5 L118.5,372.5 L120.5,362.6 L119.5,348.6 L116.5,338.7 L119.5,334.7 L117.5,324.7 L109.6,310.8 L101.6,308.8 L89.6,294.8 L87.6,276.9Z" fill="none" stroke="#7a4630" stroke-width="1.6" stroke-linejoin="round"/></svg><div style="position:absolute;left:20px;top:20px;width:52px;height:104px;background:#fff;border-radius:8px;box-shadow:0 2px 8px rgba(0,0,0,.45)"></div><div style="position:absolute;left:20px;top:70px;width:52px;height:2px;background:#ccc"></div><div style="position:absolute;left:36.9px;top:46.3px;width:20.3px;height:4px;background:#000"></div><div style="position:absolute;left:45px;top:38.8px;width:4px;height:20px;background:#000"></div><div style="position:absolute;left:36.9px;top:97.6px;width:20.3px;height:5px;background:#000"></div><div style="position:absolute;left:605.7px;top:753.5px;width:401px;height:33px;background:rgba(255,255,255,.7)"></div></div>
<div class="t " style="left:714.0px;top:1194.6px;font-size:22.2px;color:#333;font-weight:400;font-family:'Liberation Sans', Arial, sans-serif;z-index:4"><span style="color:#0078a8">Leaflet</span> <span style="color:#333">|</span> <span style="color:#333">&#169;</span> <span style="color:#0078a8">OpenStreetMap</span> <span style="color:#333">&#169;</span> <span style="color:#0078a8">CartoDB</span></div>
<div style="position:absolute;left:138px;top:1061px;width:260px;height:60px;background:#4e73df;border:2px solid #4e73df;border-radius:11px;overflow:hidden;z-index:4"><div style="position:absolute;left:0;top:0;width:69.5px;height:100%;background:rgba(0,0,0,.15);border-radius:9px 0 0 9px"></div></div>
<div style="position:absolute;left:138px;top:1141px;width:322px;height:60px;background:#4e73df;border:2px solid #4e73df;border-radius:11px;overflow:hidden;z-index:4"><div style="position:absolute;left:0;top:0;width:69.5px;height:100%;background:rgba(0,0,0,.15);border-radius:9px 0 0 9px"></div></div>
<svg style="left:0;top:0;z-index:5" width="1" height="1"><path d="M173.6,1085.1 L173.6,1078.2 L166.7,1085.1Z" fill="#fff"/><path d="M164.7,1076.7 L170.5,1082.3" stroke="#fff" stroke-width="3.3" stroke-linecap="round"/><path d="M173.6,1088.1 L173.6,1095.0 L166.7,1088.1Z" fill="#fff"/><path d="M164.7,1096.5 L170.5,1090.9" stroke="#fff" stroke-width="3.3" stroke-linecap="round"/><path d="M176.4,1085.1 L176.4,1078.2 L183.3,1085.1Z" fill="#fff"/><path d="M185.3,1076.7 L179.5,1082.3" stroke="#fff" stroke-width="3.3" stroke-linecap="round"/><path d="M176.4,1088.1 L176.4,1095.0 L183.3,1088.1Z" fill="#fff"/><path d="M185.3,1096.5 L179.5,1090.9" stroke="#fff" stroke-width="3.3" stroke-linecap="round"/><path d="M168.5,1160.4 A9,9 0 1 1 169.1,1173.4" fill="none" stroke="#fff" stroke-width="3.8" stroke-linecap="round"/><path d="M164.1,1155.1 L167.2,1155.1 L167.2,1159 L173.9,1162 L173.9,1165.1 L164.1,1165.1Z" fill="#fff"/></svg>
<div class="t " style="left:234.0px;top:1078.5px;font-size:22px;color:#fff;font-weight:700;z-index:5">centrar mapa</div>
<div class="t " style="left:234.0px;top:1158.3px;font-size:22px;color:#fff;font-weight:700;z-index:5">regresar a Nacional</div>
<div class="card" style="left:1195px;top:264px;width:1086px;height:998px;overflow:hidden"><div class="hdr" style="height:129px"></div></div>
<div class="t " style="left:1235.5px;top:299.0px;font-size:32px;color:#4e73df;font-weight:700;">Gr&aacute;fica de Casos Confirmados</div>
<div class="t " style="left:1235.0px;top:336.4px;font-size:22px;color:#999999;font-weight:800;letter-spacing:-0.35px">(Casos diarios por g&eacute;nero y acumulados)</div>
<svg style="left:0;top:0;z-index:3" width="1" height="1"><path d="M2221.5,322.5 L2238.5,339.5 M2238.5,322.5 L2221.5,339.5" stroke="#858796" stroke-width="4.6" stroke-linecap="round"/></svg>
<svg style="left:0;top:0;z-index:3" width="1" height="1"><defs><clipPath id="pc"><rect x="1371" y="400" width="700" height="600"/></clipPath></defs><rect x="1371" y="462.7" width="700" height="2" fill="#b5b5b5"/><rect x="1371" y="591.9" width="700" height="2" fill="#b5b5b5"/><rect x="1371" y="721.1" width="700" height="2" fill="#b5b5b5"/><rect x="1371" y="850.3" width="700" height="2" fill="#b5b5b5"/><rect x="1371" y="979.5" width="700" height="2" fill="#b5b5b5"/><g clip-path="url(#pc)"><rect x="1370.5" y="915.9" width="18" height="64.6" fill="#df7b79" stroke="#d63e3c" stroke-width="2"/><rect x="1392.5" y="915.9" width="18" height="64.6" fill="#667085" stroke="#1f2a4b" stroke-width="2"/><rect x="1414.5" y="915.9" width="18" height="64.6" fill="#667085" stroke="#1f2a4b" stroke-width="2"/><rect x="1436.5" y="915.9" width="18" height="64.6" fill="#df7b79" stroke="#d63e3c" stroke-width="2"/><rect x="1458.5" y="851.3" width="18" height="129.2" fill="#df7b79" stroke="#d63e3c" stroke-width="2"/><rect x="1480.5" y="915.9" width="18" height="64.6" fill="#df7b79" stroke="#d63e3c" stroke-width="2"/><rect x="1502.6" y="915.9" width="18" height="64.6" fill="#667085" stroke="#1f2a4b" stroke-width="2"/><rect x="1502.6" y="786.7" width="18" height="129.2" fill="#df7b79" stroke="#d63e3c" stroke-width="2"/><rect x="1524.6" y="915.9" width="18" height="64.6" fill="#667085" stroke="#1f2a4b" stroke-width="2"/><rect x="1524.6" y="786.7" width="18" height="129.2" fill="#df7b79" stroke="#d63e3c" stroke-width="2"/><rect x="1546.6" y="915.9" width="18" height="64.6" fill="#667085" stroke="#1f2a4b" stroke-width="2"/><rect x="1568.6" y="915.9" width="18" height="64.6" fill="#df7b79" stroke="#d63e3c" stroke-width="2"/><rect x="1590.6" y="851.3" width="18" height="129.2" fill="#df7b79" stroke="#d63e3c" stroke-width="2"/><rect x="1612.6" y="851.3" width="18" height="129.2" fill="#667085" stroke="#1f2a4b" stroke-width="2"/><rect x="1634.6" y="915.9" width="18" height="64.6" fill="#667085" stroke="#1f2a4b" stroke-width="2"/><rect x="1634.6" y="657.5" width="18" height="258.4" fill="#df7b79" stroke="#d63e3c" stroke-width="2"/><rect x="1656.6" y="915.9" width="18" height="64.6" fill="#667085" stroke="#1f2a4b" stroke-width="2"/><rect x="1678.6" y="979.5" width="18" height="2" fill="#c9605d"/><rect x="1700.7" y="786.7" width="18" height="193.8" fill="#667085" stroke="#1f2a4b" stroke-width="2"/><rect x="1722.7" y="915.9" width="18" height="64.6" fill="#667085" stroke="#1f2a4b" stroke-width="2"/><rect x="1722.7" y="851.3" width="18" height="64.6" fill="#df7b79" stroke="#d63e3c" stroke-width="2"/><rect x="1744.7" y="915.9" width="18" height="64.6" fill="#667085" stroke="#1f2a4b" stroke-width="2"/><rect x="1744.7" y="851.3" width="18" height="64.6" fill="#df7b79" stroke="#d63e3c" stroke-width="2"/><rect x="1766.7" y="722.1" width="18" height="258.4" fill="#667085" stroke="#1f2a4b" stroke-width="2"/><rect x="1766.7" y="592.9" width="18" height="129.2" fill="#df7b79" stroke="#d63e3c" stroke-width="2"/><rect x="1788.7" y="979.5" width="18" height="2" fill="#c9605d"/><rect x="1810.7" y="786.7" width="18" height="193.8" fill="#667085" stroke="#1f2a4b" stroke-width="2"/><rect x="1810.7" y="722.1" width="18" height="64.6" fill="#df7b79" stroke="#d63e3c" stroke-width="2"/><rect x="1832.7" y="979.5" width="18" height="2" fill="#c9605d"/><rect x="1854.7" y="915.9" width="18" height="64.6" fill="#667085" stroke="#1f2a4b" stroke-width="2"/><rect x="1854.7" y="851.3" width="18" height="64.6" fill="#df7b79" stroke="#d63e3c" stroke-width="2"/><rect x="1876.7" y="915.9" width="18" height="64.6" fill="#df7b79" stroke="#d63e3c" stroke-width="2"/><rect x="1898.7" y="915.9" width="18" height="64.6" fill="#667085" stroke="#1f2a4b" stroke-width="2"/><rect x="1898.7" y="851.3" width="18" height="64.6" fill="#df7b79" stroke="#d63e3c" stroke-width="2"/><rect x="1920.8" y="851.3" width="18" height="129.2" fill="#667085" stroke="#1f2a4b" stroke-width="2"/><rect x="1920.8" y="657.5" width="18" height="193.8" fill="#df7b79" stroke="#d63e3c" stroke-width="2"/><rect x="1942.8" y="851.3" width="18" height="129.2" fill="#667085" stroke="#1f2a4b" stroke-width="2"/><rect x="1942.8" y="786.7" width="18" height="64.6" fill="#df7b79" stroke="#d63e3c" stroke-width="2"/><rect x="1964.8" y="722.1" width="18" height="258.4" fill="#df7b79" stroke="#d63e3c" stroke-width="2"/><rect x="1986.8" y="851.3" width="18" height="129.2" fill="#667085" stroke="#1f2a4b" stroke-width="2"/><rect x="1986.8" y="786.7" width="18" height="64.6" fill="#df7b79" stroke="#d63e3c" stroke-width="2"/><rect x="2008.8" y="722.1" width="18" height="258.4" fill="#667085" stroke="#1f2a4b" stroke-width="2"/><rect x="2008.8" y="592.9" width="18" height="129.2" fill="#df7b79" stroke="#d63e3c" stroke-width="2"/><rect x="2030.8" y="979.5" width="18" height="2" fill="#c9605d"/><rect x="2052.8" y="979.5" width="18" height="2" fill="#c9605d"/></g><polyline points="1379.5,961.1 1401.5,954.7 1423.5,948.2 1445.5,941.7 1467.5,928.8 1489.5,922.4 1511.6,903.0 1533.6,883.6 1555.6,877.1 1577.6,870.7 1599.6,857.8 1621.6,844.8 1643.6,812.5 1665.6,806.1 1687.6,806.1 1709.7,786.7 1731.7,773.8 1753.7,760.9 1775.7,722.1 1797.7,722.1 1819.7,696.3 1841.7,696.3 1863.7,683.3 1885.7,676.9 1907.7,664.0 1929.8,631.7 1951.8,612.3 1973.8,586.4 1995.8,567.1 2017.8,528.3 2039.8,528.3 2061.8,528.3" fill="none" stroke="#ee5545" stroke-width="4" stroke-linejoin="round"/><rect x="1373.0" y="954.6" width="13" height="13" fill="#ee5545"/><rect x="1395.0" y="948.2" width="13" height="13" fill="#ee5545"/><rect x="1417.0" y="941.7" width="13" height="13" fill="#ee5545"/><rect x="1439.0" y="935.2" width="13" height="13" fill="#ee5545"/><rect x="1461.0" y="922.3" width="13" height="13" fill="#ee5545"/><rect x="1483.0" y="915.9" width="13" height="13" fill="#ee5545"/><rect x="1505.1" y="896.5" width="13" height="13" fill="#ee5545"/><rect x="1527.1" y="877.1" width="13" height="13" fill="#ee5545"/><rect x="1549.1" y="870.6" width="13" height="13" fill="#ee5545"/><rect x="1571.1" y="864.2" width="13" height="13" fill="#ee5545"/><rect x="1593.1" y="851.3" width="13" height="13" fill="#ee5545"/><rect x="1615.1" y="838.3" width="13" height="13" fill="#ee5545"/><rect x="1637.1" y="806.0" width="13" height="13" fill="#ee5545"/><rect x="1659.1" y="799.6" width="13" height="13" fill="#ee5545"/><rect x="1681.1" y="799.6" width="13" height="13" fill="#ee5545"/><rect x="1703.2" y="780.2" width="13" height="13" fill="#ee5545"/><rect x="1725.2" y="767.3" width="13" height="13" fill="#ee5545"/><rect x="1747.2" y="754.4" width="13" height="13" fill="#ee5545"/><rect x="1769.2" y="715.6" width="13" height="13" fill="#ee5545"/><rect x="1791.2" y="715.6" width="13" height="13" fill="#ee5545"/><rect x="1813.2" y="689.8" width="13" height="13" fill="#ee5545"/><rect x="1835.2" y="689.8" width="13" height="13" fill="#ee5545"/><rect x="1857.2" y="676.8" width="13" height="13" fill="#ee5545"/><rect x="1879.2" y="670.4" width="13" height="13" fill="#ee5545"/><rect x="1901.2" y="657.5" width="13" height="13" fill="#ee5545"/><rect x="1923.2" y="625.2" width="13" height="13" fill="#ee5545"/><rect x="1945.3" y="605.8" width="13" height="13" fill="#ee5545"/><rect x="1967.3" y="579.9" width="13" height="13" fill="#ee5545"/><rect x="1989.3" y="560.6" width="13" height="13" fill="#ee5545"/><rect x="2011.3" y="521.8" width="13" height="13" fill="#ee5545"/><rect x="2033.3" y="521.8" width="13" height="13" fill="#ee5545"/><rect x="2055.3" y="521.8" width="13" height="13" fill="#ee5545"/><text x="1351.5" y="470.9" font-size="20" text-anchor="end" fill="#000" style="font-family:Nunito,'Liberation Sans',sans-serif">8</text><text x="2092.5" y="470.9" font-size="20" fill="#000" style="font-family:Nunito,'Liberation Sans',sans-serif">80</text><text x="1351.5" y="600.1" font-size="20" text-anchor="end" fill="#000" style="font-family:Nunito,'Liberation Sans',sans-serif">6</text><text x="2092.5" y="600.1" font-size="20" fill="#000" style="font-family:Nunito,'Liberation Sans',sans-serif">60</text><text x="1351.5" y="729.3" font-size="20" text-anchor="end" fill="#000" style="font-family:Nunito,'Liberation Sans',sans-serif">4</text><text x="2092.5" y="729.3" font-size="20" fill="#000" style="font-family:Nunito,'Liberation Sans',sans-serif">40</text><text x="1351.5" y="858.5" font-size="20" text-anchor="end" fill="#000" style="font-family:Nunito,'Liberation Sans',sans-serif">2</text><text x="2092.5" y="858.5" font-size="20" fill="#000" style="font-family:Nunito,'Liberation Sans',sans-serif">20</text><text x="1351.5" y="987.7" font-size="20" text-anchor="end" fill="#000" style="font-family:Nunito,'Liberation Sans',sans-serif">0</text><text x="2092.5" y="987.7" font-size="20" fill="#000" style="font-family:Nunito,'Liberation Sans',sans-serif">0</text><text x="1390.0" y="1020.7" font-size="20" text-anchor="middle" fill="#000" style="font-family:Nunito,'Liberation Sans',sans-serif">Mar 20</text><text x="1455.9" y="1020.7" font-size="20" text-anchor="middle" fill="#000" style="font-family:Nunito,'Liberation Sans',sans-serif">Mar 23</text><text x="1521.8" y="1020.7" font-size="20" text-anchor="middle" fill="#000" style="font-family:Nunito,'Liberation Sans',sans-serif">Mar 26</text><text x="1587.7" y="1020.7" font-size="20" text-anchor="middle" fill="#000" style="font-family:Nunito,'Liberation Sans',sans-serif">Mar 29</text><text x="1653.6" y="1020.7" font-size="20" text-anchor="middle" fill="#000" style="font-family:Nunito,'Liberation Sans',sans-serif">Apr 01</text><text x="1719.5" y="1020.7" font-size="20" text-anchor="middle" fill="#000" style="font-family:Nunito,'Liberation Sans',sans-serif">Apr 04</text><text x="1785.4" y="1020.7" font-size="20" text-anchor="middle" fill="#000" style="font-family:Nunito,'Liberation Sans',sans-serif">Apr 07</text><text x="1851.3" y="1020.7" font-size="20" text-anchor="middle" fill="#000" style="font-family:Nunito,'Liberation Sans',sans-serif">Apr 10</text><text x="1917.2" y="1020.7" font-size="20" text-anchor="middle" fill="#000" style="font-family:Nunito,'Liberation Sans',sans-serif">Apr 13</text><text x="1983.1" y="1020.7" font-size="20" text-anchor="middle" fill="#000" style="font-family:Nunito,'Liberation Sans',sans-serif">Apr 16</text><text x="2049.0" y="1020.7" font-size="20" text-anchor="middle" fill="#000" style="font-family:Nunito,'Liberation Sans',sans-serif">Apr 19</text><text transform="translate(1287,723.5) rotate(-90)" font-size="24" text-anchor="middle" fill="#000" style="font-family:Nunito,'Liberation Sans',sans-serif">Casos diarios</text><text transform="translate(2187.6,722.2) rotate(90)" font-size="24" text-anchor="middle" fill="#000" style="font-family:Nunito,'Liberation Sans',sans-serif">Casos Acumulados</text><rect x="1371.5" y="1069" width="728" height="24" rx="12" fill="#f5f5f5"/><rect x="1862.5" y="1071" width="210.5" height="20.5" fill="#d9d9d9"/><circle cx="1862.5" cy="1081.5" r="26.5" fill="#d9d9d9"/><path d="M1859.5,1070 L1859.5,1093 M1865.5,1070 L1865.5,1093" stroke="#fff" stroke-width="1.6"/><circle cx="2073" cy="1081.5" r="26.5" fill="#d9d9d9"/><path d="M2070,1070 L2070,1093 M2076,1070 L2076,1093" stroke="#fff" stroke-width="1.6"/><rect x="1400.4" y="1129.4" width="45.6" height="45.6" rx="8" fill="#667085" stroke="#1f2a4b" stroke-width="2"/><rect x="1614.7" y="1129.4" width="45.6" height="45.6" rx="8" fill="#df7b79" stroke="#d63e3c" stroke-width="2"/><rect x="1812" y="1150.4" width="46.7" height="4" fill="#ee5545"/><rect x="1829" y="1146" width="13" height="13" fill="#ee5545"/><text x="1455.4" y="1161" font-size="26" fill="#000" style="font-family:Nunito,'Liberation Sans',sans-serif">Hombres</text><text x="1669.2" y="1161" font-size="25.7" fill="#000" style="font-family:Nunito,'Liberation Sans',sans-serif">Mujeres</text><text x="1868.8" y="1160" font-size="25.6" fill="#000" style="font-family:Nunito,'Liberation Sans',sans-serif">Total Acumulado</text><path d="M1246,1209.5 L1266,1209.5 C1274,1209.5 1277,1186 1287,1186 C1296,1186 1300,1209.5 1310,1209.5" fill="none" stroke="#c4c4c4" stroke-width="2.5"/><path d="M1290,1209.5 C1298,1209.5 1302,1194 1310,1194 C1316,1194 1317,1203 1321,1203 C1326,1203 1327,1194 1332,1194 C1340,1194 1342,1209.5 1353,1209.5" fill="none" stroke="#d4d4d4" stroke-width="2.5"/></svg>
<div class="card" style="left:56px;top:1311px;width:710px;height:120px;overflow:hidden"><div class="hdr" style="height:129px"></div></div>
<div class="card" style="left:814px;top:1311px;width:710px;height:120px;overflow:hidden"><div class="hdr" style="height:129px"></div></div>
<div class="card" style="left:1572px;top:1311px;width:710px;height:120px;overflow:hidden"><div class="hdr" style="height:129px"></div></div>
<div style="position:absolute;left:2194px;top:1250px;width:88px;height:100px;border-radius:13px;background:rgba(90,92,105,.5);z-index:6"></div>
<svg style="left:0;top:0;z-index:7" width="1" height="1"><path d="M2229.5,1270.5 L2238,1262 L2246.5,1270.5" fill="none" stroke="#fff" stroke-width="4" stroke-linecap="round" stroke-linejoin="round"/></svg>
<div style="position:absolute;left:2314px;top:0;width:1.5px;height:1330px;background:#dcdcdc;z-index:8"></div>
<div style="position:absolute;left:2315.5px;top:0;width:7px;height:1330px;background:#fafafa;z-index:8"></div></body></html>
